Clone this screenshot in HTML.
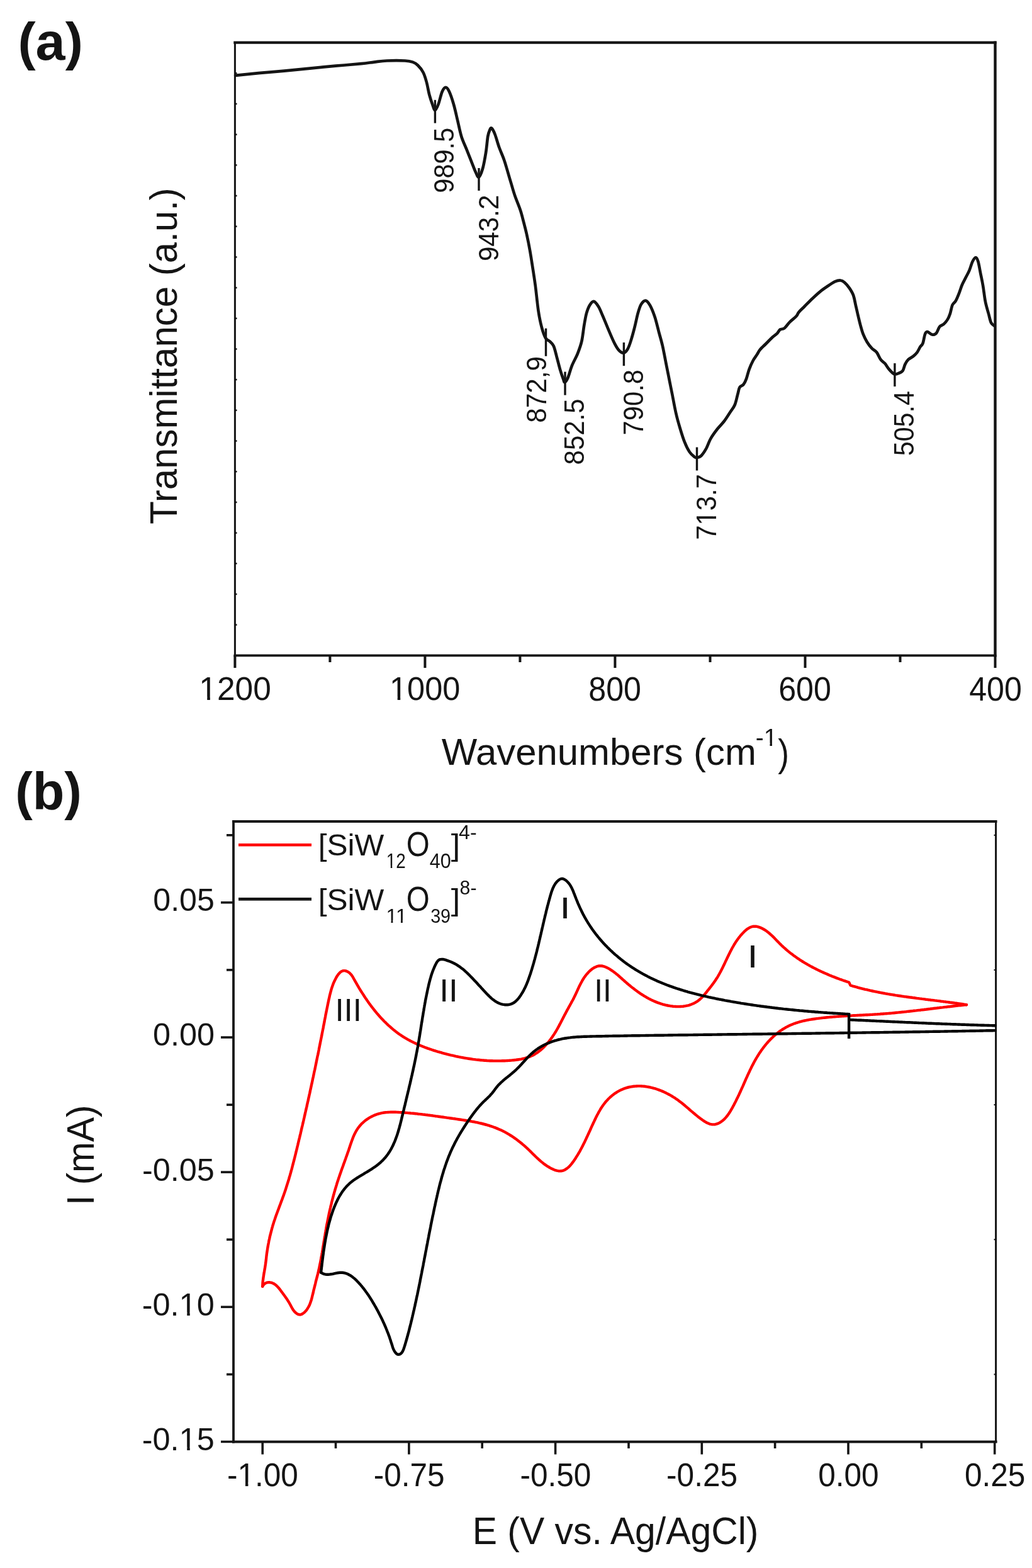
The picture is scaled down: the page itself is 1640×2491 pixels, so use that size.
<!DOCTYPE html><html><head><meta charset="utf-8"><title>Figure</title><style>html,body{margin:0;padding:0;background:#fff}svg{display:block}text{font-family:'Liberation Sans',Arial,sans-serif;fill:#141414}</style></head><body>
<svg xmlns="http://www.w3.org/2000/svg" width="1640" height="2491" viewBox="0 0 1640 2491">
<rect width="1640" height="2491" fill="#fff"/>
<text transform="translate(28.42 94.71) scale(1.0194 0.9936)" font-size="83" font-weight="bold">(a)</text>
<g stroke="#141414" fill="none" stroke-linecap="square">
<line x1="373.4" y1="67.6" x2="1581.5" y2="67.6" stroke-width="4.2"/>
<line x1="373.4" y1="67.6" x2="373.4" y2="1041.3" stroke-width="3"/>
<line x1="1581.5" y1="67.6" x2="1581.5" y2="1041.3" stroke-width="4.4"/>
<line x1="373.4" y1="1041.3" x2="1581.5" y2="1041.3" stroke-width="3.8"/>
</g>
<g stroke="#141414" stroke-width="4"><line x1="373.4" y1="1041" x2="373.4" y2="1061.0"/><line x1="524.4" y1="1041" x2="524.4" y2="1052.0"/><line x1="675.4" y1="1041" x2="675.4" y2="1061.0"/><line x1="826.4" y1="1041" x2="826.4" y2="1052.0"/><line x1="977.4" y1="1041" x2="977.4" y2="1061.0"/><line x1="1128.5" y1="1041" x2="1128.5" y2="1052.0"/><line x1="1279.5" y1="1041" x2="1279.5" y2="1061.0"/><line x1="1430.5" y1="1041" x2="1430.5" y2="1052.0"/><line x1="1581.5" y1="1041" x2="1581.5" y2="1061.0"/><line x1="373" y1="116.3" x2="376.5" y2="116.3" stroke-width="2.5"/><line x1="373" y1="165.0" x2="376.5" y2="165.0" stroke-width="2.5"/><line x1="373" y1="213.7" x2="376.5" y2="213.7" stroke-width="2.5"/><line x1="373" y1="262.3" x2="376.5" y2="262.3" stroke-width="2.5"/><line x1="373" y1="311.0" x2="376.5" y2="311.0" stroke-width="2.5"/><line x1="373" y1="359.7" x2="376.5" y2="359.7" stroke-width="2.5"/><line x1="373" y1="408.4" x2="376.5" y2="408.4" stroke-width="2.5"/><line x1="373" y1="457.1" x2="376.5" y2="457.1" stroke-width="2.5"/><line x1="373" y1="505.8" x2="376.5" y2="505.8" stroke-width="2.5"/><line x1="373" y1="554.5" x2="376.5" y2="554.5" stroke-width="2.5"/><line x1="373" y1="603.1" x2="376.5" y2="603.1" stroke-width="2.5"/><line x1="373" y1="651.8" x2="376.5" y2="651.8" stroke-width="2.5"/><line x1="373" y1="700.5" x2="376.5" y2="700.5" stroke-width="2.5"/><line x1="373" y1="749.2" x2="376.5" y2="749.2" stroke-width="2.5"/><line x1="373" y1="797.9" x2="376.5" y2="797.9" stroke-width="2.5"/><line x1="373" y1="846.6" x2="376.5" y2="846.6" stroke-width="2.5"/><line x1="373" y1="895.2" x2="376.5" y2="895.2" stroke-width="2.5"/><line x1="373" y1="943.9" x2="376.5" y2="943.9" stroke-width="2.5"/><line x1="373" y1="992.6" x2="376.5" y2="992.6" stroke-width="2.5"/></g>
<g transform="translate(316.34 1112.30) scale(1.0087 1.0306)"><text font-size="51">1200</text><g fill="#fff"><rect x="2.58" y="-5.11" width="10.19" height="6.71"/><rect x="17.38" y="-5.11" width="9.79" height="6.71"/></g></g>
<g transform="translate(619.03 1112.30) scale(0.9898 1.0306)"><text font-size="51">1000</text><g fill="#fff"><rect x="2.58" y="-5.11" width="10.19" height="6.71"/><rect x="17.38" y="-5.11" width="9.79" height="6.71"/></g></g>
<text transform="translate(935.33 1112.50) scale(0.9827 1.0361)" font-size="51">800</text>
<text transform="translate(1237.22 1112.50) scale(0.9827 1.0361)" font-size="51">600</text>
<text transform="translate(1540.23 1112.50) scale(0.9827 1.0361)" font-size="51">400</text>
<text transform="translate(281.34 832.73) rotate(-90) scale(1.0344 1.0630)" font-size="58">Transmittance (a.u.)</text>
<text transform="translate(701.70 1215.26) scale(1.0324 1.0204)" font-size="58">Wavenumbers (cm</text>
<g transform="translate(1200.86 1184.50) scale(1.0196 1.0000)"><text font-size="38">-1</text><g fill="#fff"><rect x="14.24" y="-4.14" width="7.92" height="5.74"/><rect x="25.59" y="-4.14" width="7.63" height="5.74"/></g></g>
<text transform="translate(1236.18 1216.66) scale(0.9200 1.0537)" font-size="58">)</text>
<path d="M374.1 119.8C380.2 119.2 397.9 117.4 410.8 116.2C423.7 115.0 438.1 113.9 451.7 112.6C465.3 111.3 478.9 109.9 492.5 108.6C506.1 107.3 519.8 105.9 533.4 104.7C547.0 103.5 564.0 102.2 574.2 101.2C584.4 100.2 587.8 99.4 594.6 98.6C601.4 97.8 606.8 96.8 615.0 96.5C623.2 96.2 636.8 96.2 643.6 96.5C650.4 96.8 652.5 97.4 655.9 98.6C659.3 99.8 661.2 101.0 664.0 103.7C666.8 106.4 670.2 110.5 672.5 115.0C674.8 119.5 676.4 125.1 678.0 131.0C679.6 136.9 680.7 144.7 682.3 150.6C683.9 156.5 685.9 162.4 687.4 166.5C688.9 170.6 689.9 175.2 691.4 175.1C692.9 175.0 694.6 170.9 696.5 166.0C698.4 161.1 700.7 150.0 702.7 145.5C704.7 141.0 706.4 138.9 708.3 138.9C710.2 138.9 711.8 141.0 713.9 145.5C716.0 150.0 718.8 158.3 721.0 166.0C723.2 173.7 725.2 183.0 727.2 191.5C729.2 200.0 730.9 209.3 733.3 217.0C735.7 224.7 738.8 230.6 741.5 237.4C744.2 244.2 747.2 251.8 749.6 257.8C752.0 263.8 753.9 269.3 755.8 273.2C757.7 277.1 759.0 282.2 760.9 281.3C762.8 280.4 765.1 274.5 767.0 268.0C768.9 261.5 770.7 251.0 772.1 242.5C773.5 234.0 774.2 222.9 775.2 217.0C776.2 211.1 777.2 209.0 778.2 206.8C779.2 204.6 779.9 202.6 781.3 203.7C782.7 204.8 784.6 208.4 786.6 213.5C788.6 218.6 790.8 227.4 793.2 234.0C795.6 240.6 798.7 247.2 800.8 253.2C802.9 259.1 804.0 263.3 805.9 269.7C807.8 276.1 810.2 284.5 812.3 291.4C814.4 298.3 815.9 304.0 818.3 311.0C820.7 318.0 824.5 326.7 826.8 333.5C829.1 340.3 830.2 345.4 831.9 351.9C833.6 358.4 835.3 364.6 837.0 372.3C838.7 380.0 840.6 389.3 842.1 397.8C843.6 406.3 844.8 414.0 846.2 423.4C847.7 432.8 849.2 442.3 850.8 454.0C852.3 465.7 853.9 482.8 855.5 493.6C857.1 504.5 858.7 511.9 860.6 519.1C862.5 526.3 864.9 533.2 867.0 537.0C869.1 540.8 871.3 540.0 873.4 542.1C875.5 544.2 877.9 545.5 879.8 549.8C881.7 554.0 883.2 561.4 884.9 567.6C886.6 573.8 888.3 581.0 890.0 586.8C891.7 592.5 893.8 598.7 895.1 602.1C896.4 605.5 896.3 607.6 897.6 607.2C898.9 606.8 900.8 604.0 902.7 599.5C904.6 595.0 906.5 586.8 909.1 580.4C911.7 574.0 915.6 567.7 918.1 561.3C920.6 554.9 922.7 549.5 924.4 542.1C926.1 534.7 927.0 524.1 928.3 516.6C929.6 509.2 930.6 502.7 932.1 497.4C933.6 492.1 935.3 487.8 937.2 484.7C939.1 481.6 941.3 478.5 943.6 478.9C945.9 479.3 948.9 483.5 951.2 487.2C953.5 490.9 955.5 496.4 957.6 501.3C959.7 506.2 961.9 511.5 964.0 516.6C966.1 521.7 968.3 527.0 970.4 531.9C972.5 536.8 974.7 541.9 976.8 545.9C978.9 549.9 980.9 553.6 983.2 556.1C985.5 558.6 988.5 560.8 990.8 560.6C993.1 560.4 995.3 558.0 997.2 554.9C999.1 551.8 1000.4 548.1 1002.3 542.1C1004.2 536.1 1006.8 526.6 1008.7 519.1C1010.6 511.7 1012.1 503.3 1013.8 497.4C1015.5 491.4 1016.9 486.7 1018.9 483.4C1020.9 480.1 1023.7 477.3 1026.1 477.6C1028.4 477.9 1030.6 480.9 1033.0 485.2C1035.4 489.5 1038.3 496.7 1040.6 503.6C1042.9 510.5 1044.8 518.9 1046.8 526.6C1048.8 534.3 1050.9 540.7 1052.9 549.6C1054.9 558.5 1057.2 571.3 1059.0 580.2C1060.8 589.1 1062.1 595.6 1063.6 603.2C1065.1 610.9 1066.4 617.2 1068.2 626.1C1070.0 635.0 1072.2 647.9 1074.3 656.8C1076.3 665.7 1078.2 672.1 1080.5 679.7C1082.8 687.4 1085.5 696.3 1088.1 702.7C1090.6 709.1 1093.2 714.2 1095.8 718.0C1098.3 721.8 1101.5 724.2 1103.4 725.7C1105.3 727.2 1105.5 727.5 1107.3 727.2C1109.1 727.0 1111.7 726.5 1114.1 724.2C1116.5 721.9 1119.2 718.0 1121.8 713.4C1124.4 708.8 1126.4 702.0 1129.5 696.6C1132.6 691.2 1136.6 685.9 1140.2 681.3C1143.8 676.7 1147.6 673.4 1150.9 669.0C1154.2 664.6 1157.3 659.5 1160.1 655.2C1162.9 650.9 1165.8 647.9 1167.8 643.0C1169.8 638.1 1171.1 630.7 1172.4 626.1C1173.7 621.5 1173.9 618.0 1175.4 615.4C1176.9 612.8 1179.7 613.1 1181.5 610.8C1183.3 608.5 1184.6 605.7 1186.1 601.6C1187.6 597.5 1188.9 591.1 1190.7 586.3C1192.5 581.4 1194.9 576.3 1196.9 572.5C1199.0 568.7 1201.2 566.1 1203.0 563.3C1204.8 560.5 1205.3 558.5 1207.6 555.7C1209.9 552.9 1213.5 549.8 1216.8 546.5C1220.1 543.2 1224.5 538.6 1227.5 535.8C1230.5 533.0 1233.1 531.6 1235.1 529.6C1237.1 527.6 1237.8 524.9 1239.7 523.5C1241.6 522.1 1243.8 523.5 1246.4 521.5C1249.0 519.5 1252.1 514.5 1255.3 511.3C1258.5 508.1 1263.2 504.9 1265.5 502.3C1267.8 499.8 1267.3 498.6 1269.4 496.0C1271.5 493.4 1274.7 490.6 1278.3 487.0C1281.9 483.4 1286.8 478.2 1291.1 474.2C1295.3 470.2 1299.5 466.2 1303.8 462.8C1308.0 459.4 1312.8 456.4 1316.6 453.8C1320.4 451.2 1323.6 448.8 1326.8 447.4C1330.0 446.0 1333.2 445.3 1335.7 445.5C1338.2 445.7 1339.8 446.7 1342.1 448.7C1344.4 450.7 1347.5 454.2 1349.8 457.6C1352.1 461.0 1354.4 464.4 1356.1 469.1C1357.8 473.8 1358.7 480.2 1360.0 485.7C1361.3 491.2 1362.5 497.0 1363.8 502.3C1365.1 507.6 1366.3 512.9 1367.6 517.6C1368.9 522.3 1369.8 526.1 1371.5 530.4C1373.2 534.7 1375.5 539.4 1377.8 543.2C1380.1 547.0 1382.9 550.6 1385.5 553.4C1388.1 556.2 1390.9 556.8 1393.2 559.8C1395.5 562.8 1397.3 568.2 1399.5 571.2C1401.7 574.2 1404.2 575.0 1406.4 577.6C1408.6 580.2 1410.3 583.8 1412.8 586.6C1415.2 589.4 1418.5 593.2 1421.1 594.2C1423.6 595.2 1425.9 593.8 1428.1 592.9C1430.3 592.0 1432.8 591.4 1434.5 589.1C1436.2 586.8 1436.8 581.9 1438.3 578.9C1439.8 575.9 1441.3 573.3 1443.4 571.2C1445.5 569.1 1448.8 568.0 1451.1 566.1C1453.4 564.2 1455.5 562.3 1457.4 559.8C1459.3 557.2 1461.0 553.1 1462.5 550.8C1464.0 548.4 1465.1 549.1 1466.4 545.7C1467.7 542.3 1468.9 533.5 1470.2 530.4C1471.5 527.3 1472.1 527.0 1474.0 527.2C1475.9 527.4 1479.4 531.4 1481.7 531.7C1484.0 532.0 1486.2 531.2 1488.1 529.1C1490.0 527.0 1491.3 521.2 1493.2 518.9C1495.1 516.6 1497.5 517.0 1499.6 515.1C1501.7 513.2 1504.2 510.2 1505.9 507.4C1507.6 504.6 1508.5 502.3 1509.8 498.5C1511.1 494.7 1512.1 487.8 1513.6 484.4C1515.1 481.0 1517.0 481.1 1518.7 478.1C1520.4 475.1 1522.1 470.9 1523.8 466.6C1525.5 462.3 1527.0 457.0 1528.9 452.5C1530.8 448.0 1533.4 443.6 1535.3 439.8C1537.2 436.0 1538.7 433.7 1540.4 429.6C1542.1 425.6 1543.8 418.9 1545.5 415.5C1547.2 412.1 1549.1 409.1 1550.6 409.1C1552.1 409.1 1553.1 411.2 1554.4 415.5C1555.7 419.8 1557.0 428.3 1558.3 434.7C1559.6 441.1 1560.8 446.4 1562.1 453.8C1563.4 461.2 1564.4 471.9 1565.9 479.3C1567.4 486.8 1569.5 493.0 1571.0 498.5C1572.5 504.0 1573.4 509.3 1574.9 512.5C1576.4 515.7 1579.2 516.8 1580.0 517.6" fill="none" stroke="#141414" stroke-width="4.7" stroke-linejoin="round" stroke-linecap="round"/>
<g stroke="#141414" stroke-width="3.4"><line x1="691.4" y1="158.8" x2="691.4" y2="195.6"/><line x1="761.0" y1="267.0" x2="761.0" y2="302.9"/><line x1="867.5" y1="521.7" x2="867.5" y2="565.8"/><line x1="898.0" y1="590.6" x2="898.0" y2="627.7"/><line x1="991.4" y1="544.1" x2="991.4" y2="581.2"/><line x1="1107.5" y1="710.5" x2="1107.5" y2="747.5"/><line x1="1421.9" y1="577.1" x2="1421.9" y2="614.0"/></g>
<text transform="translate(721.00 306.69) rotate(-90) scale(0.9443 1.0000)" font-size="44">989.5</text>
<text transform="translate(791.60 415.12) rotate(-90) scale(0.9585 1.0194)" font-size="44">943.2</text>
<text transform="translate(867.63 671.82) rotate(-90) scale(0.9604 0.9944)" font-size="44">872,9</text>
<text transform="translate(928.10 738.41) rotate(-90) scale(0.9528 1.0065)" font-size="44">852.5</text>
<text transform="translate(1021.50 691.39) rotate(-90) scale(0.9472 1.0194)" font-size="44">790.8</text>
<g transform="translate(1138.20 857.70) rotate(-90) scale(0.9491 1.0097)"><text font-size="44">713.7</text><g fill="#fff"><rect x="26.52" y="-4.59" width="8.97" height="6.19"/><rect x="39.46" y="-4.59" width="8.63" height="6.19"/></g></g>
<text transform="translate(1452.00 724.27) rotate(-90) scale(0.9364 1.0226)" font-size="44">505.4</text>
<text transform="translate(24.16 1285.74) scale(0.9859 0.9974)" font-size="84" font-weight="bold">(b)</text>
<g stroke="#141414" fill="none" stroke-linecap="square">
<line x1="371" y1="1305" x2="1582.6" y2="1305" stroke-width="3.8"/>
<line x1="371" y1="1305" x2="371" y2="2290.5" stroke-width="3.8"/>
<line x1="1582.6" y1="1305" x2="1582.6" y2="2290.5" stroke-width="3"/>
<line x1="371" y1="2290.5" x2="1582.6" y2="2290.5" stroke-width="4"/>
</g>
<g stroke="#141414" stroke-width="3.6"><line x1="417.2" y1="2290" x2="417.2" y2="2310.5"/><line x1="533.5" y1="2290" x2="533.5" y2="2301.0"/><line x1="649.9" y1="2290" x2="649.9" y2="2310.5"/><line x1="766.2" y1="2290" x2="766.2" y2="2301.0"/><line x1="882.6" y1="2290" x2="882.6" y2="2310.5"/><line x1="999.0" y1="2290" x2="999.0" y2="2301.0"/><line x1="1115.3" y1="2290" x2="1115.3" y2="2310.5"/><line x1="1231.6" y1="2290" x2="1231.6" y2="2301.0"/><line x1="1348.0" y1="2290" x2="1348.0" y2="2310.5"/><line x1="1464.3" y1="2290" x2="1464.3" y2="2301.0"/><line x1="1580.7" y1="2290" x2="1580.7" y2="2310.5"/><line x1="351.0" y1="2290.4" x2="371" y2="2290.4"/><line x1="360.0" y1="2183.4" x2="371" y2="2183.4"/><line x1="351.0" y1="2076.3" x2="371" y2="2076.3"/><line x1="360.0" y1="1969.2" x2="371" y2="1969.2"/><line x1="351.0" y1="1862.1" x2="371" y2="1862.1"/><line x1="360.0" y1="1755.1" x2="371" y2="1755.1"/><line x1="351.0" y1="1648.0" x2="371" y2="1648.0"/><line x1="360.0" y1="1540.9" x2="371" y2="1540.9"/><line x1="351.0" y1="1433.8" x2="371" y2="1433.8"/><line x1="360.0" y1="1326.8" x2="371" y2="1326.8"/><line x1="1579.5" y1="2183.4" x2="1582" y2="2183.4" stroke-width="2"/><line x1="1579.5" y1="1969.2" x2="1582" y2="1969.2" stroke-width="2"/><line x1="1579.5" y1="1755.1" x2="1582" y2="1755.1" stroke-width="2"/><line x1="1579.5" y1="1540.9" x2="1582" y2="1540.9" stroke-width="2"/><line x1="1579.5" y1="1326.8" x2="1582" y2="1326.8" stroke-width="2"/></g>
<g transform="translate(361.02 2360.50) scale(0.9909 1.0343)"><text font-size="50">-1.00</text><g fill="#fff"><rect x="19.15" y="-5.04" width="10.02" height="6.64"/><rect x="33.68" y="-5.04" width="9.63" height="6.64"/></g></g>
<text transform="translate(593.72 2360.50) scale(0.9909 1.0343)" font-size="50">-0.75</text>
<text transform="translate(826.42 2360.50) scale(0.9909 1.0343)" font-size="50">-0.50</text>
<text transform="translate(1059.12 2360.50) scale(0.9909 1.0343)" font-size="50">-0.25</text>
<text transform="translate(1300.24 2360.50) scale(0.9909 1.0343)" font-size="50">0.00</text>
<text transform="translate(1532.94 2360.50) scale(0.9909 1.0343)" font-size="50">0.25</text>
<text transform="translate(225.88 1875.60) scale(1.0082 1.0171)" font-size="50">-0.05</text>
<text transform="translate(243.30 1446.60) scale(1.0022 1.0029)" font-size="50">0.05</text>
<text transform="translate(242.92 1661.45) scale(1.0082 1.0171)" font-size="50">0.00</text>
<g transform="translate(225.78 2089.75) scale(1.0082 1.0171)"><text font-size="50">-0.10</text><g fill="#fff"><rect x="60.85" y="-5.04" width="10.02" height="6.64"/><rect x="75.38" y="-5.04" width="9.63" height="6.64"/></g></g>
<g transform="translate(225.78 2303.90) scale(1.0082 1.0171)"><text font-size="50">-0.15</text><g fill="#fff"><rect x="60.85" y="-5.04" width="10.02" height="6.64"/><rect x="75.38" y="-5.04" width="9.63" height="6.64"/></g></g>
<text transform="translate(149.38 1915.06) rotate(-90) scale(1.0114 1.0519)" font-size="58">I (mA)</text>
<text transform="translate(750.72 2452.79) scale(1.0150 1.0593)" font-size="58">E (V vs. Ag/AgCl)</text>
<line x1="379" y1="1342.3" x2="495" y2="1342.3" stroke="#ff0000" stroke-width="4.6"/>
<line x1="379" y1="1428.4" x2="495" y2="1428.4" stroke="#141414" stroke-width="4.6"/>
<text transform="translate(505.76 1358.90) scale(1.0111 1.0000)" font-size="49">[SiW</text>
<g transform="translate(613.79 1379.20) scale(0.9286 1.1000)"><text font-size="30">12</text><g fill="#fff"><rect x="0.99" y="-3.54" width="6.53" height="5.14"/><rect x="10.22" y="-3.54" width="6.30" height="5.14"/></g></g>
<text transform="translate(645.86 1359.80) scale(0.9706 1.1242)" font-size="49">O</text>
<text transform="translate(682.68 1379.20) scale(1.0194 1.1000)" font-size="30">40</text>
<text transform="translate(716.70 1358.79) scale(1.0600 0.9911)" font-size="49">]</text>
<text transform="translate(729.06 1332.80) scale(1.0360 1.0227)" font-size="31">4-</text>
<text transform="translate(505.76 1445.90) scale(1.0111 1.0000)" font-size="49">[SiW</text>
<g transform="translate(613.41 1465.70) scale(1.0726 1.0750)"><text font-size="30">11</text><g fill="#fff"><rect x="0.99" y="-3.54" width="6.53" height="5.14"/><rect x="10.22" y="-3.54" width="6.30" height="5.14"/><rect x="15.44" y="-3.54" width="6.53" height="5.14"/><rect x="24.68" y="-3.54" width="6.30" height="5.14"/></g></g>
<text transform="translate(645.86 1446.80) scale(0.9706 1.1242)" font-size="49">O</text>
<text transform="translate(684.14 1465.70) scale(0.9581 1.0750)" font-size="30">39</text>
<text transform="translate(716.70 1445.79) scale(1.0600 0.9911)" font-size="49">]</text>
<text transform="translate(730.62 1420.50) scale(0.9760 0.9864)" font-size="31">8-</text>
<g fill="none" stroke-width="4.4" stroke-linejoin="round" stroke-linecap="round">
<path d="M1535.9 1596.2L1533.9 1595.9L1531.9 1595.6L1529.9 1595.3L1527.9 1595.0L1525.8 1594.7L1523.8 1594.4L1521.8 1594.1L1519.8 1593.8L1517.8 1593.6L1515.8 1593.3L1513.8 1593.0L1511.8 1592.7L1509.7 1592.5L1507.7 1592.2L1505.7 1591.9L1503.7 1591.7L1501.7 1591.4L1499.6 1591.2L1497.6 1590.9L1495.6 1590.7L1493.6 1590.4L1491.6 1590.1L1489.6 1589.9L1487.5 1589.6L1485.5 1589.4L1483.5 1589.1L1481.5 1588.9L1479.4 1588.7L1477.4 1588.4L1475.4 1588.2L1473.4 1587.9L1471.4 1587.7L1469.3 1587.4L1467.3 1587.1L1465.3 1586.9L1463.3 1586.6L1461.3 1586.4L1459.2 1586.1L1457.2 1585.9L1455.2 1585.6L1453.2 1585.3L1451.2 1585.1L1449.2 1584.8L1447.1 1584.5L1445.1 1584.3L1443.1 1584.0L1441.1 1583.7L1439.1 1583.4L1437.1 1583.2L1435.0 1582.9L1433.0 1582.6L1431.0 1582.3L1429.0 1582.0L1427.0 1581.7L1425.0 1581.4L1423.0 1581.1L1421.0 1580.7L1419.0 1580.4L1417.0 1580.1L1414.9 1579.8L1412.9 1579.4L1410.9 1579.1L1408.9 1578.7L1406.9 1578.4L1404.9 1578.0L1402.9 1577.6L1400.9 1577.3L1398.9 1576.9L1396.9 1576.5L1395.0 1576.1L1393.0 1575.7L1391.0 1575.3L1389.0 1574.9L1387.0 1574.5L1385.0 1574.0L1383.0 1573.6L1381.0 1573.1L1379.1 1572.7L1377.1 1572.2L1375.1 1571.8L1373.1 1571.3L1371.1 1570.8L1369.2 1570.3L1367.2 1569.8L1365.2 1569.3L1363.3 1568.8L1361.3 1568.2L1359.3 1567.7L1357.4 1567.1L1355.4 1566.6L1353.4 1566.0L1351.5 1565.4L1349.2 1560.6L1347.4 1560.0L1345.5 1559.4L1343.6 1558.7L1341.7 1558.1L1339.9 1557.5L1338.0 1556.8L1336.1 1556.1L1334.2 1555.5L1332.4 1554.8L1330.5 1554.1L1328.6 1553.4L1326.8 1552.6L1324.9 1551.9L1323.0 1551.2L1321.2 1550.4L1319.3 1549.7L1317.5 1548.9L1315.6 1548.1L1313.8 1547.3L1311.9 1546.5L1310.1 1545.7L1308.2 1544.9L1306.4 1544.1L1304.6 1543.2L1302.7 1542.4L1300.9 1541.5L1299.1 1540.6L1297.3 1539.7L1295.5 1538.8L1293.7 1537.9L1291.9 1537.0L1290.2 1536.0L1288.4 1535.1L1286.6 1534.1L1284.9 1533.1L1283.1 1532.1L1281.4 1531.1L1279.7 1530.1L1277.9 1529.1L1276.2 1528.0L1274.5 1527.0L1272.8 1525.9L1271.1 1524.8L1269.5 1523.7L1267.8 1522.6L1266.2 1521.5L1264.5 1520.3L1262.9 1519.1L1261.3 1518.0L1259.7 1516.8L1258.1 1515.6L1256.5 1514.4L1254.9 1513.1L1253.4 1511.9L1251.8 1510.6L1250.3 1509.3L1248.8 1508.0L1247.3 1506.7L1245.8 1505.4L1244.3 1504.0L1242.8 1502.7L1241.4 1501.3L1240.0 1499.9L1238.6 1498.5L1237.2 1497.0L1235.8 1495.6L1234.4 1494.2L1233.0 1492.7L1231.6 1491.3L1230.2 1489.8L1228.8 1488.4L1227.4 1487.0L1225.9 1485.7L1224.4 1484.3L1222.9 1483.0L1221.4 1481.7L1219.8 1480.5L1218.2 1479.3L1216.6 1478.1L1214.8 1477.0L1213.1 1476.0L1211.2 1475.0L1209.3 1474.1L1207.4 1473.3L1205.4 1472.6L1203.4 1472.1L1201.4 1471.7L1199.5 1471.6L1197.6 1471.7L1195.7 1472.0L1193.9 1472.5L1192.1 1473.2L1190.4 1474.1L1188.8 1475.1L1187.1 1476.2L1185.5 1477.5L1184.0 1478.8L1182.5 1480.2L1181.1 1481.7L1179.6 1483.2L1178.3 1484.7L1176.9 1486.2L1175.7 1487.8L1174.4 1489.4L1173.2 1491.0L1172.0 1492.6L1170.9 1494.3L1169.7 1495.9L1168.6 1497.6L1167.6 1499.3L1166.5 1501.0L1165.5 1502.8L1164.5 1504.5L1163.5 1506.3L1162.6 1508.0L1161.7 1509.8L1160.7 1511.6L1159.8 1513.4L1158.9 1515.2L1158.0 1517.0L1157.2 1518.8L1156.3 1520.6L1155.4 1522.4L1154.6 1524.2L1153.7 1526.0L1152.8 1527.9L1152.0 1529.7L1151.1 1531.5L1150.3 1533.3L1149.4 1535.1L1148.5 1536.9L1147.6 1538.7L1146.7 1540.5L1145.8 1542.2L1144.9 1544.0L1143.9 1545.8L1143.0 1547.5L1142.0 1549.2L1141.0 1551.0L1140.0 1552.7L1138.9 1554.3L1137.8 1556.0L1136.7 1557.7L1135.6 1559.3L1134.5 1560.9L1133.3 1562.5L1132.1 1564.1L1130.9 1565.7L1129.7 1567.3L1128.4 1568.9L1127.2 1570.5L1125.9 1572.1L1124.6 1573.7L1123.3 1575.4L1122.0 1577.0L1120.7 1578.6L1119.4 1580.2L1118.0 1581.7L1116.6 1583.2L1115.2 1584.7L1113.8 1586.1L1112.3 1587.5L1110.8 1588.8L1109.2 1590.0L1107.6 1591.1L1105.9 1592.1L1104.2 1593.1L1102.5 1594.0L1100.7 1594.8L1098.9 1595.5L1097.1 1596.2L1095.3 1596.8L1093.4 1597.3L1091.5 1597.7L1089.5 1598.1L1087.6 1598.4L1085.6 1598.7L1083.6 1598.9L1081.6 1599.0L1079.6 1599.1L1077.6 1599.1L1075.6 1599.1L1073.6 1599.0L1071.5 1598.9L1069.5 1598.7L1067.5 1598.4L1065.5 1598.2L1063.4 1597.8L1061.4 1597.5L1059.4 1597.0L1057.5 1596.6L1055.5 1596.1L1053.5 1595.6L1051.6 1595.0L1049.7 1594.4L1047.8 1593.7L1045.9 1593.1L1044.0 1592.4L1042.1 1591.6L1040.3 1590.9L1038.5 1590.1L1036.7 1589.2L1034.9 1588.4L1033.1 1587.5L1031.3 1586.6L1029.5 1585.6L1027.8 1584.7L1026.1 1583.7L1024.4 1582.7L1022.7 1581.6L1021.0 1580.5L1019.3 1579.5L1017.6 1578.4L1016.0 1577.2L1014.3 1576.1L1012.7 1574.9L1011.1 1573.8L1009.5 1572.6L1007.9 1571.3L1006.3 1570.1L1004.7 1568.9L1003.1 1567.6L1001.6 1566.3L1000.0 1565.1L998.5 1563.8L996.9 1562.5L995.4 1561.2L993.9 1559.8L992.4 1558.5L990.9 1557.2L989.4 1555.8L987.9 1554.5L986.4 1553.2L984.9 1551.8L983.4 1550.5L981.9 1549.2L980.4 1547.9L978.8 1546.7L977.3 1545.4L975.7 1544.2L974.0 1543.0L972.4 1541.9L970.7 1540.8L969.0 1539.7L967.2 1538.7L965.4 1537.7L963.5 1536.8L961.6 1536.0L959.7 1535.3L957.8 1534.8L955.8 1534.5L953.9 1534.4L952.0 1534.5L950.1 1534.9L948.3 1535.4L946.5 1536.2L944.7 1537.0L942.9 1538.1L941.2 1539.2L939.6 1540.5L938.0 1541.8L936.5 1543.2L935.0 1544.7L933.7 1546.2L932.3 1547.7L931.1 1549.3L929.9 1550.9L928.7 1552.5L927.6 1554.1L926.6 1555.8L925.5 1557.5L924.6 1559.3L923.6 1561.0L922.7 1562.8L921.8 1564.5L920.9 1566.3L920.0 1568.1L919.2 1570.0L918.3 1571.8L917.5 1573.6L916.7 1575.4L915.8 1577.3L915.0 1579.1L914.1 1580.9L913.2 1582.7L912.3 1584.6L911.4 1586.4L910.5 1588.2L909.5 1590.0L908.5 1591.7L907.6 1593.5L906.6 1595.3L905.6 1597.1L904.6 1598.8L903.7 1600.6L902.7 1602.4L901.7 1604.1L900.8 1605.9L899.8 1607.7L898.9 1609.4L898.0 1611.2L897.0 1612.9L896.1 1614.7L895.2 1616.4L894.3 1618.2L893.4 1619.9L892.5 1621.7L891.6 1623.4L890.7 1625.2L889.8 1626.9L888.9 1628.6L888.0 1630.4L887.0 1632.1L886.1 1633.8L885.1 1635.5L884.1 1637.3L883.1 1639.0L882.0 1640.7L881.0 1642.4L879.9 1644.1L878.7 1645.8L877.6 1647.5L876.4 1649.1L875.2 1650.8L873.9 1652.4L872.7 1654.1L871.4 1655.7L870.0 1657.3L868.7 1658.8L867.3 1660.3L865.9 1661.8L864.5 1663.3L863.0 1664.7L861.5 1666.1L860.0 1667.5L858.4 1668.8L856.8 1670.0L855.2 1671.2L853.6 1672.4L851.9 1673.5L850.3 1674.5L848.5 1675.5L846.8 1676.5L845.0 1677.3L843.2 1678.1L841.4 1678.9L839.5 1679.5L837.7 1680.2L835.8 1680.7L833.9 1681.3L831.9 1681.7L830.0 1682.2L828.1 1682.6L826.1 1682.9L824.1 1683.2L822.1 1683.5L820.1 1683.8L818.1 1684.0L816.1 1684.2L814.1 1684.4L812.1 1684.6L810.1 1684.7L808.1 1684.9L806.1 1685.0L804.1 1685.1L802.1 1685.2L800.1 1685.3L798.1 1685.3L796.1 1685.4L794.1 1685.4L792.1 1685.4L790.1 1685.4L788.1 1685.4L786.1 1685.4L784.1 1685.4L782.1 1685.3L780.1 1685.2L778.1 1685.2L776.1 1685.1L774.1 1685.0L772.1 1684.8L770.1 1684.7L768.1 1684.5L766.1 1684.4L764.2 1684.2L762.2 1684.0L760.2 1683.8L758.2 1683.6L756.2 1683.4L754.2 1683.1L752.2 1682.9L750.3 1682.6L748.3 1682.3L746.3 1682.0L744.3 1681.7L742.3 1681.4L740.4 1681.1L738.4 1680.8L736.4 1680.4L734.4 1680.0L732.5 1679.7L730.5 1679.3L728.5 1678.9L726.6 1678.5L724.6 1678.1L722.6 1677.6L720.7 1677.2L718.7 1676.7L716.8 1676.3L714.8 1675.8L712.8 1675.3L710.9 1674.8L708.9 1674.3L707.0 1673.8L705.0 1673.3L703.1 1672.8L701.2 1672.2L699.2 1671.7L697.3 1671.1L695.3 1670.6L693.4 1670.0L691.5 1669.4L689.5 1668.8L687.6 1668.2L685.7 1667.5L683.8 1666.9L681.9 1666.2L680.0 1665.6L678.1 1664.9L676.2 1664.2L674.3 1663.5L672.5 1662.8L670.6 1662.0L668.7 1661.3L666.9 1660.5L665.0 1659.7L663.2 1658.9L661.4 1658.1L659.6 1657.3L657.8 1656.4L656.0 1655.5L654.2 1654.6L652.4 1653.7L650.7 1652.8L648.9 1651.9L647.2 1650.9L645.5 1649.9L643.8 1648.9L642.1 1647.9L640.4 1646.8L638.7 1645.7L637.1 1644.6L635.4 1643.5L633.8 1642.4L632.2 1641.2L630.6 1640.0L629.0 1638.8L627.5 1637.6L625.9 1636.4L624.4 1635.1L622.9 1633.8L621.4 1632.5L619.9 1631.2L618.4 1629.9L616.9 1628.6L615.4 1627.2L614.0 1625.8L612.6 1624.4L611.1 1623.0L609.7 1621.6L608.3 1620.1L607.0 1618.7L605.6 1617.2L604.2 1615.7L602.9 1614.2L601.6 1612.7L600.3 1611.2L598.9 1609.7L597.6 1608.1L596.4 1606.6L595.1 1605.0L593.8 1603.4L592.6 1601.8L591.3 1600.2L590.1 1598.6L588.9 1597.0L587.7 1595.4L586.5 1593.7L585.3 1592.1L584.2 1590.4L583.0 1588.7L581.9 1587.1L580.7 1585.4L579.6 1583.7L578.5 1582.0L577.4 1580.3L576.3 1578.6L575.2 1576.9L574.1 1575.2L573.0 1573.5L572.0 1571.8L570.9 1570.1L569.9 1568.3L568.9 1566.6L567.9 1564.9L566.9 1563.1L565.9 1561.4L564.9 1559.7L563.9 1557.9L562.9 1556.2L562.0 1554.5L561.0 1552.7L560.0 1551.0L558.9 1549.4L557.7 1547.9L556.3 1546.4L554.8 1545.1L553.1 1544.0L551.3 1543.1L549.4 1542.4L547.6 1542.1L545.7 1542.1L544.0 1542.6L542.4 1543.4L540.8 1544.5L539.4 1545.9L538.0 1547.4L536.7 1549.2L535.5 1551.0L534.3 1553.0L533.3 1554.9L532.3 1556.9L531.4 1558.8L530.5 1560.7L529.7 1562.6L529.0 1564.6L528.3 1566.5L527.6 1568.4L527.0 1570.3L526.4 1572.2L525.9 1574.1L525.4 1576.0L524.9 1577.9L524.4 1579.8L523.9 1581.7L523.5 1583.7L523.1 1585.6L522.6 1587.5L522.2 1589.5L521.8 1591.4L521.4 1593.3L521.0 1595.3L520.6 1597.2L520.2 1599.2L519.8 1601.1L519.4 1603.1L519.0 1605.1L518.6 1607.0L518.2 1609.0L517.8 1611.0L517.4 1612.9L517.1 1614.9L516.7 1616.9L516.3 1618.9L515.9 1620.8L515.6 1622.8L515.2 1624.8L514.8 1626.7L514.4 1628.7L514.0 1630.7L513.7 1632.7L513.3 1634.6L512.9 1636.6L512.5 1638.6L512.1 1640.6L511.7 1642.5L511.4 1644.5L511.0 1646.5L510.6 1648.4L510.2 1650.4L509.8 1652.4L509.4 1654.3L509.0 1656.3L508.6 1658.3L508.2 1660.2L507.8 1662.2L507.4 1664.2L507.0 1666.1L506.7 1668.1L506.3 1670.1L505.9 1672.0L505.5 1674.0L505.1 1676.0L504.6 1677.9L504.2 1679.9L503.8 1681.9L503.4 1683.8L503.0 1685.8L502.6 1687.7L502.2 1689.7L501.8 1691.7L501.4 1693.6L501.0 1695.6L500.6 1697.6L500.2 1699.5L499.7 1701.5L499.3 1703.4L498.9 1705.4L498.5 1707.4L498.1 1709.3L497.7 1711.3L497.2 1713.2L496.8 1715.2L496.4 1717.2L496.0 1719.1L495.6 1721.1L495.1 1723.0L494.7 1725.0L494.3 1726.9L493.9 1728.9L493.4 1730.9L493.0 1732.8L492.6 1734.8L492.2 1736.7L491.7 1738.7L491.3 1740.6L490.9 1742.6L490.4 1744.5L490.0 1746.5L489.6 1748.5L489.1 1750.4L488.7 1752.4L488.2 1754.3L487.8 1756.3L487.4 1758.2L486.9 1760.2L486.5 1762.1L486.0 1764.1L485.6 1766.0L485.1 1768.0L484.7 1770.0L484.3 1771.9L483.8 1773.9L483.4 1775.8L482.9 1777.8L482.5 1779.7L482.0 1781.7L481.6 1783.6L481.1 1785.6L480.7 1787.5L480.2 1789.5L479.7 1791.4L479.3 1793.4L478.8 1795.3L478.4 1797.3L477.9 1799.2L477.5 1801.2L477.0 1803.1L476.5 1805.1L476.1 1807.0L475.6 1809.0L475.1 1810.9L474.7 1812.9L474.2 1814.8L473.7 1816.8L473.3 1818.7L472.8 1820.7L472.3 1822.6L471.9 1824.6L471.4 1826.5L470.9 1828.5L470.4 1830.4L470.0 1832.4L469.5 1834.3L469.0 1836.3L468.5 1838.2L468.0 1840.2L467.5 1842.1L467.0 1844.1L466.5 1846.0L466.0 1847.9L465.5 1849.9L465.0 1851.8L464.5 1853.8L464.0 1855.7L463.5 1857.6L462.9 1859.6L462.4 1861.5L461.9 1863.4L461.3 1865.4L460.8 1867.3L460.2 1869.2L459.6 1871.1L459.1 1873.1L458.5 1875.0L457.9 1876.9L457.3 1878.8L456.7 1880.7L456.1 1882.6L455.5 1884.5L454.9 1886.4L454.3 1888.3L453.7 1890.3L453.0 1892.2L452.4 1894.0L451.7 1895.9L451.1 1897.8L450.4 1899.7L449.7 1901.6L449.0 1903.5L448.3 1905.4L447.6 1907.3L446.9 1909.1L446.2 1911.0L445.5 1912.9L444.8 1914.8L444.1 1916.6L443.4 1918.5L442.7 1920.4L442.0 1922.3L441.3 1924.2L440.6 1926.0L439.9 1927.9L439.2 1929.8L438.5 1931.7L437.9 1933.6L437.2 1935.5L436.6 1937.4L435.9 1939.3L435.3 1941.2L434.7 1943.1L434.1 1945.0L433.5 1946.9L433.0 1948.8L432.4 1950.7L431.9 1952.7L431.4 1954.6L430.9 1956.5L430.4 1958.5L429.9 1960.4L429.4 1962.4L428.9 1964.3L428.5 1966.3L428.1 1968.2L427.6 1970.2L427.2 1972.1L426.9 1974.1L426.5 1976.1L426.1 1978.0L425.8 1980.0L425.4 1982.0L425.1 1984.0L424.8 1986.0L424.5 1987.9L424.2 1989.9L423.9 1991.9L423.7 1993.9L423.4 1995.9L423.2 1997.9L423.0 1999.9L422.8 2001.9L422.5 2003.9L422.3 2005.9L422.0 2007.9L421.7 2009.9L421.4 2011.8L421.1 2013.8L420.8 2015.8L420.4 2017.8L420.1 2019.7L419.7 2021.7L419.4 2023.7L419.1 2025.7L418.8 2027.6L418.5 2029.6L418.2 2031.6L418.0 2033.6L417.7 2035.6L417.5 2037.6L417.4 2039.6L417.3 2041.6L417.2 2043.6" stroke="#ff0000"/>
<path d="M417.2 2043.7L418.4 2041.6L419.9 2040.0L421.5 2038.8L423.2 2037.9L425.1 2037.4L427.0 2037.2L428.9 2037.3L430.8 2037.6L432.7 2038.2L434.5 2039.0L436.3 2040.0L437.9 2041.2L439.4 2042.5L440.9 2043.9L442.3 2045.4L443.6 2047.0L444.9 2048.6L446.1 2050.2L447.3 2051.9L448.5 2053.5L449.7 2055.1L450.9 2056.7L452.0 2058.3L453.2 2059.9L454.3 2061.5L455.4 2063.1L456.5 2064.7L457.5 2066.3L458.6 2068.0L459.6 2069.7L460.6 2071.5L461.6 2073.3L462.6 2075.2L463.6 2077.1L464.7 2079.0L465.8 2080.8L467.1 2082.5L468.4 2084.1L470.0 2085.6L471.6 2086.8L473.4 2087.8L475.2 2088.4L476.9 2088.5L478.7 2088.1L480.4 2087.4L482.0 2086.3L483.5 2085.1L484.9 2083.7L486.2 2082.3L487.4 2080.8L488.5 2079.2L489.5 2077.5L490.5 2075.8L491.4 2074.1L492.2 2072.3L492.9 2070.4L493.6 2068.5L494.3 2066.6L494.9 2064.6L495.4 2062.7L495.9 2060.7L496.4 2058.6L496.9 2056.6L497.4 2054.6L497.9 2052.6L498.3 2050.6L498.8 2048.5L499.3 2046.6L499.8 2044.6L500.3 2042.6L500.8 2040.7L501.3 2038.7L501.7 2036.8L502.2 2034.8L502.7 2032.9L503.2 2031.0L503.7 2029.1L504.2 2027.1L504.7 2025.2L505.2 2023.3L505.6 2021.4L506.1 2019.5L506.5 2017.5L507.0 2015.6L507.4 2013.7L507.8 2011.7L508.2 2009.8L508.6 2007.8L509.0 2005.9L509.4 2003.9L509.8 2002.0L510.1 2000.0L510.5 1998.0L510.8 1996.1L511.2 1994.1L511.5 1992.1L511.9 1990.1L512.2 1988.2L512.6 1986.2L512.9 1984.2L513.2 1982.2L513.5 1980.2L513.9 1978.3L514.2 1976.3L514.5 1974.3L514.8 1972.3L515.2 1970.3L515.5 1968.3L515.8 1966.3L516.1 1964.4L516.5 1962.4L516.8 1960.4L517.1 1958.4L517.5 1956.4L517.8 1954.4L518.2 1952.4L518.5 1950.5L518.9 1948.5L519.2 1946.5L519.6 1944.5L520.0 1942.6L520.4 1940.6L520.8 1938.6L521.2 1936.6L521.6 1934.7L522.0 1932.7L522.4 1930.8L522.8 1928.8L523.2 1926.8L523.6 1924.9L524.1 1922.9L524.5 1921.0L525.0 1919.0L525.4 1917.1L525.9 1915.1L526.4 1913.2L526.8 1911.2L527.3 1909.3L527.8 1907.3L528.3 1905.4L528.8 1903.5L529.3 1901.5L529.8 1899.6L530.4 1897.7L530.9 1895.7L531.4 1893.8L532.0 1891.9L532.5 1890.0L533.1 1888.1L533.7 1886.2L534.3 1884.2L534.9 1882.3L535.4 1880.4L536.0 1878.5L536.7 1876.6L537.3 1874.7L537.9 1872.8L538.5 1870.9L539.2 1869.0L539.8 1867.1L540.5 1865.3L541.1 1863.4L541.8 1861.5L542.5 1859.6L543.1 1857.7L543.8 1855.8L544.5 1853.9L545.2 1852.0L545.8 1850.2L546.5 1848.3L547.2 1846.4L547.9 1844.5L548.6 1842.6L549.3 1840.7L549.9 1838.8L550.6 1836.9L551.3 1835.0L552.0 1833.1L552.6 1831.2L553.3 1829.3L554.0 1827.4L554.6 1825.5L555.3 1823.6L555.9 1821.6L556.5 1819.7L557.2 1817.8L557.8 1815.9L558.5 1814.0L559.2 1812.1L559.9 1810.2L560.6 1808.3L561.3 1806.4L562.1 1804.6L562.9 1802.8L563.8 1801.0L564.7 1799.2L565.6 1797.5L566.6 1795.8L567.7 1794.1L568.8 1792.4L570.0 1790.8L571.2 1789.3L572.5 1787.8L573.8 1786.3L575.2 1784.8L576.7 1783.5L578.2 1782.1L579.7 1780.8L581.3 1779.6L583.0 1778.4L584.6 1777.3L586.3 1776.2L588.1 1775.2L589.9 1774.2L591.7 1773.3L593.5 1772.4L595.3 1771.6L597.2 1770.9L599.1 1770.2L601.0 1769.6L602.9 1769.1L604.9 1768.6L606.8 1768.2L608.8 1767.8L610.8 1767.5L612.7 1767.3L614.7 1767.1L616.7 1767.0L618.7 1766.9L620.7 1766.8L622.7 1766.8L624.7 1766.8L626.7 1766.8L628.7 1766.8L630.8 1766.9L632.8 1767.0L634.8 1767.1L636.8 1767.2L638.8 1767.3L640.8 1767.5L642.8 1767.6L644.8 1767.8L646.8 1767.9L648.8 1768.1L650.8 1768.3L652.8 1768.5L654.8 1768.6L656.8 1768.8L658.8 1769.0L660.8 1769.2L662.8 1769.4L664.8 1769.7L666.8 1769.9L668.8 1770.1L670.8 1770.3L672.7 1770.6L674.7 1770.8L676.7 1771.1L678.7 1771.3L680.7 1771.6L682.7 1771.8L684.7 1772.1L686.6 1772.3L688.6 1772.6L690.6 1772.9L692.6 1773.2L694.6 1773.4L696.6 1773.7L698.5 1774.0L700.5 1774.3L702.5 1774.5L704.5 1774.8L706.5 1775.1L708.5 1775.4L710.4 1775.7L712.4 1775.9L714.4 1776.2L716.4 1776.5L718.4 1776.8L720.4 1777.1L722.4 1777.3L724.4 1777.6L726.3 1777.9L728.3 1778.2L730.3 1778.5L732.3 1778.8L734.3 1779.1L736.3 1779.4L738.3 1779.7L740.3 1780.0L742.2 1780.3L744.2 1780.6L746.2 1781.0L748.2 1781.3L750.1 1781.7L752.1 1782.0L754.1 1782.4L756.0 1782.8L758.0 1783.2L759.9 1783.6L761.9 1784.1L763.8 1784.5L765.8 1785.0L767.7 1785.5L769.6 1786.0L771.5 1786.5L773.5 1787.0L775.4 1787.6L777.3 1788.2L779.2 1788.8L781.1 1789.4L782.9 1790.0L784.8 1790.7L786.7 1791.4L788.5 1792.1L790.4 1792.9L792.2 1793.7L794.1 1794.5L795.9 1795.3L797.7 1796.1L799.5 1797.0L801.3 1797.9L803.1 1798.9L804.9 1799.9L806.6 1800.9L808.4 1801.9L810.1 1803.0L811.8 1804.0L813.6 1805.1L815.3 1806.3L816.9 1807.4L818.6 1808.6L820.3 1809.8L821.9 1811.0L823.5 1812.2L825.1 1813.5L826.7 1814.7L828.3 1816.0L829.9 1817.3L831.4 1818.6L832.9 1819.9L834.5 1821.2L835.9 1822.6L837.4 1823.9L838.9 1825.3L840.3 1826.7L841.7 1828.0L843.1 1829.4L844.5 1830.8L845.9 1832.2L847.3 1833.6L848.7 1834.9L850.1 1836.3L851.5 1837.7L852.9 1839.0L854.4 1840.4L855.8 1841.7L857.3 1843.0L858.8 1844.3L860.3 1845.6L861.9 1846.9L863.5 1848.2L865.1 1849.4L866.8 1850.6L868.5 1851.8L870.2 1852.9L872.1 1854.0L873.9 1855.1L875.8 1856.2L877.8 1857.1L879.7 1858.0L881.7 1858.8L883.7 1859.4L885.6 1859.9L887.5 1860.2L889.4 1860.4L891.3 1860.3L893.0 1860.0L894.8 1859.6L896.4 1859.0L898.1 1858.2L899.6 1857.2L901.2 1856.1L902.7 1854.9L904.1 1853.6L905.5 1852.2L906.9 1850.6L908.2 1849.1L909.5 1847.4L910.8 1845.7L912.0 1844.0L913.2 1842.2L914.4 1840.5L915.5 1838.7L916.6 1836.9L917.7 1835.2L918.8 1833.4L919.8 1831.6L920.9 1829.8L921.9 1828.1L922.8 1826.3L923.8 1824.5L924.7 1822.7L925.7 1820.9L926.6 1819.1L927.5 1817.3L928.4 1815.5L929.3 1813.7L930.1 1811.9L931.0 1810.1L931.8 1808.3L932.6 1806.5L933.5 1804.7L934.3 1802.9L935.1 1801.2L935.9 1799.4L936.8 1797.6L937.6 1795.8L938.4 1794.0L939.2 1792.2L940.0 1790.4L940.8 1788.6L941.7 1786.8L942.5 1785.0L943.3 1783.2L944.2 1781.4L945.0 1779.6L945.9 1777.9L946.7 1776.1L947.6 1774.3L948.5 1772.5L949.4 1770.8L950.4 1769.0L951.3 1767.2L952.3 1765.5L953.3 1763.8L954.3 1762.0L955.4 1760.3L956.5 1758.6L957.6 1757.0L958.8 1755.3L960.0 1753.7L961.2 1752.1L962.5 1750.5L963.9 1748.9L965.3 1747.4L966.7 1745.9L968.2 1744.5L969.7 1743.0L971.3 1741.7L972.9 1740.3L974.6 1739.0L976.2 1737.8L977.9 1736.6L979.7 1735.5L981.4 1734.4L983.2 1733.4L985.0 1732.4L986.8 1731.5L988.7 1730.7L990.5 1729.9L992.4 1729.2L994.2 1728.6L996.1 1728.0L998.0 1727.5L999.9 1727.0L1001.9 1726.6L1003.8 1726.3L1005.7 1726.0L1007.7 1725.8L1009.6 1725.6L1011.6 1725.5L1013.5 1725.4L1015.5 1725.4L1017.5 1725.4L1019.5 1725.5L1021.4 1725.6L1023.4 1725.8L1025.4 1726.0L1027.3 1726.3L1029.3 1726.6L1031.3 1727.0L1033.3 1727.4L1035.2 1727.9L1037.2 1728.3L1039.1 1728.9L1041.1 1729.4L1043.0 1730.0L1044.9 1730.7L1046.8 1731.4L1048.7 1732.1L1050.6 1732.8L1052.5 1733.6L1054.4 1734.4L1056.2 1735.3L1058.1 1736.1L1059.9 1737.1L1061.7 1738.0L1063.5 1739.0L1065.3 1739.9L1067.0 1741.0L1068.8 1742.0L1070.5 1743.1L1072.2 1744.1L1073.8 1745.3L1075.5 1746.4L1077.1 1747.5L1078.7 1748.7L1080.3 1749.9L1081.9 1751.1L1083.4 1752.3L1084.9 1753.5L1086.5 1754.8L1088.0 1756.0L1089.5 1757.3L1091.0 1758.6L1092.5 1759.9L1094.0 1761.2L1095.5 1762.5L1097.0 1763.8L1098.5 1765.1L1100.1 1766.4L1101.6 1767.7L1103.2 1769.0L1104.7 1770.3L1106.3 1771.6L1107.9 1772.9L1109.5 1774.2L1111.2 1775.5L1112.8 1776.7L1114.6 1778.0L1116.3 1779.3L1118.0 1780.5L1119.8 1781.6L1121.6 1782.7L1123.5 1783.7L1125.3 1784.5L1127.1 1785.3L1129.0 1785.8L1130.9 1786.2L1132.8 1786.4L1134.7 1786.4L1136.6 1786.2L1138.5 1785.7L1140.3 1785.1L1142.2 1784.3L1144.0 1783.3L1145.7 1782.2L1147.4 1781.0L1149.1 1779.7L1150.6 1778.3L1152.1 1776.9L1153.4 1775.4L1154.7 1773.8L1156.0 1772.3L1157.2 1770.6L1158.3 1769.0L1159.4 1767.3L1160.5 1765.6L1161.5 1763.8L1162.5 1762.1L1163.5 1760.4L1164.5 1758.6L1165.4 1756.8L1166.4 1755.1L1167.3 1753.3L1168.2 1751.5L1169.2 1749.7L1170.0 1747.9L1170.9 1746.1L1171.8 1744.3L1172.7 1742.5L1173.5 1740.7L1174.4 1738.9L1175.2 1737.1L1176.1 1735.3L1176.9 1733.4L1177.7 1731.6L1178.5 1729.8L1179.3 1728.0L1180.2 1726.1L1181.0 1724.3L1181.8 1722.5L1182.6 1720.6L1183.4 1718.8L1184.2 1717.0L1185.0 1715.1L1185.8 1713.3L1186.7 1711.5L1187.5 1709.7L1188.3 1707.8L1189.2 1706.0L1190.0 1704.2L1190.9 1702.4L1191.7 1700.6L1192.6 1698.8L1193.5 1697.0L1194.3 1695.2L1195.2 1693.4L1196.2 1691.6L1197.1 1689.9L1198.0 1688.1L1199.0 1686.3L1199.9 1684.6L1200.9 1682.9L1201.9 1681.1L1203.0 1679.4L1204.0 1677.7L1205.1 1676.0L1206.1 1674.3L1207.2 1672.6L1208.4 1671.0L1209.5 1669.3L1210.7 1667.6L1211.9 1666.0L1213.1 1664.4L1214.3 1662.8L1215.6 1661.2L1216.8 1659.6L1218.1 1658.1L1219.5 1656.5L1220.8 1655.0L1222.2 1653.5L1223.6 1652.1L1225.0 1650.6L1226.4 1649.2L1227.9 1647.8L1229.3 1646.4L1230.8 1645.1L1232.3 1643.8L1233.9 1642.5L1235.4 1641.2L1237.0 1640.0L1238.6 1638.8L1240.2 1637.6L1241.9 1636.5L1243.5 1635.4L1245.2 1634.3L1246.9 1633.3L1248.6 1632.3L1250.4 1631.4L1252.1 1630.5L1253.9 1629.6L1255.7 1628.8L1257.5 1628.0L1259.4 1627.2L1261.2 1626.5L1263.1 1625.8L1265.0 1625.2L1266.9 1624.6L1268.8 1624.0L1270.7 1623.4L1272.6 1622.9L1274.6 1622.4L1276.5 1621.9L1278.5 1621.5L1280.5 1621.1L1282.4 1620.7L1284.4 1620.3L1286.4 1619.9L1288.4 1619.6L1290.4 1619.3L1292.4 1619.0L1294.4 1618.7L1296.4 1618.4L1298.4 1618.1L1300.4 1617.9L1302.4 1617.6L1304.5 1617.4L1306.5 1617.1L1308.5 1616.9L1310.5 1616.7L1312.5 1616.5L1314.5 1616.3L1316.5 1616.1L1318.5 1615.9L1320.5 1615.7L1322.5 1615.6L1324.5 1615.4L1326.5 1615.2L1328.5 1615.1L1330.5 1614.9L1332.5 1614.8L1334.5 1614.6L1336.5 1614.5L1338.5 1614.4L1340.5 1614.3L1342.5 1614.1L1344.5 1614.0L1346.5 1613.9L1348.4 1613.8L1350.4 1613.7L1352.4 1613.6L1354.4 1613.4L1356.4 1613.3L1358.4 1613.2L1360.4 1613.1L1362.4 1613.0L1364.4 1612.9L1366.4 1612.8L1368.4 1612.7L1370.4 1612.6L1372.4 1612.5L1374.4 1612.4L1376.4 1612.3L1378.4 1612.2L1380.4 1612.1L1382.3 1612.0L1384.3 1611.9L1386.3 1611.8L1388.3 1611.6L1390.3 1611.5L1392.3 1611.4L1394.3 1611.3L1396.3 1611.1L1398.3 1611.0L1400.3 1610.8L1402.3 1610.7L1404.3 1610.5L1406.3 1610.4L1408.3 1610.2L1410.3 1610.1L1412.3 1609.9L1414.3 1609.7L1416.3 1609.6L1418.3 1609.4L1420.3 1609.2L1422.3 1609.0L1424.3 1608.8L1426.3 1608.6L1428.3 1608.4L1430.3 1608.2L1432.3 1608.0L1434.3 1607.8L1436.3 1607.6L1438.3 1607.4L1440.3 1607.2L1442.2 1606.9L1444.2 1606.7L1446.2 1606.5L1448.2 1606.3L1450.2 1606.1L1452.2 1605.8L1454.2 1605.6L1456.2 1605.4L1458.2 1605.1L1460.2 1604.9L1462.2 1604.7L1464.2 1604.4L1466.2 1604.2L1468.2 1604.0L1470.2 1603.7L1472.2 1603.5L1474.2 1603.2L1476.2 1603.0L1478.2 1602.8L1480.2 1602.5L1482.2 1602.3L1484.2 1602.0L1486.2 1601.8L1488.2 1601.6L1490.2 1601.3L1492.2 1601.1L1494.2 1600.8L1496.2 1600.6L1498.1 1600.4L1500.1 1600.1L1502.1 1599.9L1504.1 1599.7L1506.1 1599.4L1508.1 1599.2L1510.1 1599.0L1512.1 1598.7L1514.1 1598.5L1516.1 1598.3L1518.0 1598.1L1520.0 1597.9L1522.0 1597.6L1524.0 1597.4L1526.0 1597.2L1528.0 1597.0L1530.0 1596.8L1531.9 1596.6L1533.9 1596.4L1535.9 1596.2" stroke="#ff0000"/>
<path d="M1581.5 1637.1L1579.5 1637.1L1577.5 1637.2L1575.5 1637.2L1573.5 1637.2L1571.5 1637.3L1569.5 1637.3L1567.5 1637.3L1565.5 1637.4L1563.5 1637.4L1561.5 1637.5L1559.5 1637.5L1557.4 1637.5L1555.4 1637.6L1553.4 1637.6L1551.4 1637.6L1549.4 1637.7L1547.4 1637.7L1545.4 1637.7L1543.4 1637.8L1541.4 1637.8L1539.4 1637.9L1537.4 1637.9L1535.4 1637.9L1533.4 1638.0L1531.4 1638.0L1529.4 1638.0L1527.4 1638.1L1525.4 1638.1L1523.4 1638.1L1521.4 1638.2L1519.4 1638.2L1517.4 1638.2L1515.4 1638.3L1513.4 1638.3L1511.4 1638.4L1509.4 1638.4L1507.3 1638.4L1505.3 1638.5L1503.3 1638.5L1501.3 1638.5L1499.3 1638.6L1497.3 1638.6L1495.3 1638.6L1493.3 1638.7L1491.3 1638.7L1489.3 1638.7L1487.3 1638.8L1485.3 1638.8L1483.3 1638.8L1481.3 1638.9L1479.3 1638.9L1477.3 1638.9L1475.3 1639.0L1473.3 1639.0L1471.3 1639.0L1469.3 1639.1L1467.3 1639.1L1465.3 1639.1L1463.3 1639.1L1461.3 1639.2L1459.2 1639.2L1457.2 1639.2L1455.2 1639.3L1453.2 1639.3L1451.2 1639.3L1449.2 1639.4L1447.2 1639.4L1445.2 1639.4L1443.2 1639.5L1441.2 1639.5L1439.2 1639.5L1437.2 1639.6L1435.2 1639.6L1433.2 1639.6L1431.2 1639.6L1429.2 1639.7L1427.2 1639.7L1425.2 1639.7L1423.2 1639.8L1421.2 1639.8L1419.2 1639.8L1417.2 1639.9L1415.1 1639.9L1413.1 1639.9L1411.1 1640.0L1409.1 1640.0L1407.1 1640.0L1405.1 1640.0L1403.1 1640.1L1401.1 1640.1L1399.1 1640.1L1397.1 1640.2L1395.1 1640.2L1393.1 1640.2L1391.1 1640.2L1389.1 1640.3L1387.1 1640.3L1385.1 1640.3L1383.1 1640.4L1381.1 1640.4L1379.1 1640.4L1377.1 1640.4L1375.1 1640.5L1373.1 1640.5L1371.0 1640.5L1369.0 1640.6L1367.0 1640.6L1365.0 1640.6L1363.0 1640.6L1361.0 1640.7L1359.0 1640.7L1357.0 1640.7L1355.0 1640.8L1353.0 1640.8L1351.0 1640.8L1349.0 1640.8L1347.0 1640.9L1345.0 1640.9L1343.0 1640.9L1341.0 1641.0L1339.0 1641.0L1337.0 1641.0L1335.0 1641.0L1333.0 1641.1L1331.0 1641.1L1329.0 1641.1L1326.9 1641.1L1324.9 1641.2L1322.9 1641.2L1320.9 1641.2L1318.9 1641.3L1316.9 1641.3L1314.9 1641.3L1312.9 1641.3L1310.9 1641.4L1308.9 1641.4L1306.9 1641.4L1304.9 1641.4L1302.9 1641.5L1300.9 1641.5L1298.9 1641.5L1296.9 1641.5L1294.9 1641.6L1292.9 1641.6L1290.9 1641.6L1288.9 1641.7L1286.9 1641.7L1284.8 1641.7L1282.8 1641.7L1280.8 1641.8L1278.8 1641.8L1276.8 1641.8L1274.8 1641.8L1272.8 1641.9L1270.8 1641.9L1268.8 1641.9L1266.8 1641.9L1264.8 1642.0L1262.8 1642.0L1260.8 1642.0L1258.8 1642.0L1256.8 1642.1L1254.8 1642.1L1252.8 1642.1L1250.8 1642.2L1248.8 1642.2L1246.8 1642.2L1244.8 1642.2L1242.8 1642.3L1240.7 1642.3L1238.7 1642.3L1236.7 1642.3L1234.7 1642.4L1232.7 1642.4L1230.7 1642.4L1228.7 1642.4L1226.7 1642.5L1224.7 1642.5L1222.7 1642.5L1220.7 1642.5L1218.7 1642.6L1216.7 1642.6L1214.7 1642.6L1212.7 1642.6L1210.7 1642.7L1208.7 1642.7L1206.7 1642.7L1204.7 1642.7L1202.7 1642.8L1200.7 1642.8L1198.7 1642.8L1196.6 1642.8L1194.6 1642.9L1192.6 1642.9L1190.6 1642.9L1188.6 1642.9L1186.6 1643.0L1184.6 1643.0L1182.6 1643.0L1180.6 1643.0L1178.6 1643.1L1176.6 1643.1L1174.6 1643.1L1172.6 1643.1L1170.6 1643.2L1168.6 1643.2L1166.6 1643.2L1164.6 1643.2L1162.6 1643.3L1160.6 1643.3L1158.6 1643.3L1156.6 1643.3L1154.6 1643.4L1152.6 1643.4L1150.5 1643.4L1148.5 1643.4L1146.5 1643.5L1144.5 1643.5L1142.5 1643.5L1140.5 1643.5L1138.5 1643.6L1136.5 1643.6L1134.5 1643.6L1132.5 1643.6L1130.5 1643.7L1128.5 1643.7L1126.5 1643.7L1124.5 1643.8L1122.5 1643.8L1120.5 1643.8L1118.5 1643.8L1116.5 1643.9L1114.5 1643.9L1112.5 1643.9L1110.5 1643.9L1108.5 1644.0L1106.5 1644.0L1104.5 1644.0L1102.4 1644.0L1100.4 1644.1L1098.4 1644.1L1096.4 1644.1L1094.4 1644.1L1092.4 1644.2L1090.4 1644.2L1088.4 1644.2L1086.4 1644.2L1084.4 1644.3L1082.4 1644.3L1080.4 1644.3L1078.4 1644.3L1076.4 1644.4L1074.4 1644.4L1072.4 1644.4L1070.4 1644.4L1068.4 1644.5L1066.4 1644.5L1064.4 1644.5L1062.4 1644.5L1060.4 1644.6L1058.4 1644.6L1056.4 1644.6L1054.4 1644.7L1052.4 1644.7L1050.3 1644.7L1048.3 1644.7L1046.3 1644.8L1044.3 1644.8L1042.3 1644.8L1040.3 1644.8L1038.3 1644.9L1036.3 1644.9L1034.3 1644.9L1032.3 1644.9L1030.3 1645.0L1028.3 1645.0L1026.3 1645.0L1024.3 1645.1L1022.3 1645.1L1020.3 1645.1L1018.3 1645.1L1016.3 1645.2L1014.3 1645.2L1012.3 1645.2L1010.3 1645.3L1008.3 1645.3L1006.3 1645.3L1004.3 1645.3L1002.3 1645.4L1000.3 1645.4L998.3 1645.4L996.2 1645.5L994.2 1645.5L992.2 1645.5L990.2 1645.6L988.2 1645.6L986.2 1645.6L984.2 1645.7L982.2 1645.7L980.2 1645.7L978.2 1645.8L976.2 1645.8L974.2 1645.8L972.2 1645.9L970.2 1645.9L968.2 1645.9L966.2 1646.0L964.2 1646.0L962.2 1646.0L960.1 1646.1L958.1 1646.1L956.1 1646.2L954.1 1646.2L952.1 1646.2L950.1 1646.3L948.1 1646.3L946.1 1646.4L944.1 1646.4L942.1 1646.4L940.1 1646.5L938.1 1646.5L936.1 1646.6L934.0 1646.6L932.0 1646.7L930.0 1646.7L928.0 1646.8L926.0 1646.9L924.0 1647.0L922.0 1647.1L920.0 1647.2L918.0 1647.3L916.0 1647.4L914.0 1647.6L912.0 1647.7L910.0 1647.9L908.0 1648.1L906.0 1648.4L904.0 1648.6L902.1 1648.9L900.1 1649.2L898.1 1649.5L896.1 1649.8L894.2 1650.2L892.2 1650.6L890.2 1651.1L888.3 1651.5L886.3 1652.0L884.4 1652.6L882.5 1653.1L880.6 1653.7L878.6 1654.3L876.8 1655.0L874.9 1655.7L873.0 1656.4L871.1 1657.2L869.3 1657.9L867.5 1658.8L865.7 1659.6L863.9 1660.5L862.2 1661.5L860.4 1662.4L858.7 1663.4L857.0 1664.5L855.3 1665.5L853.7 1666.7L852.1 1667.8L850.5 1669.0L848.9 1670.2L847.4 1671.5L845.9 1672.8L844.4 1674.2L843.0 1675.5L841.5 1676.9L840.1 1678.4L838.7 1679.8L837.3 1681.3L835.9 1682.8L834.6 1684.2L833.2 1685.7L831.8 1687.2L830.4 1688.7L829.1 1690.2L827.7 1691.7L826.3 1693.2L824.9 1694.7L823.5 1696.1L822.1 1697.5L820.6 1699.0L819.2 1700.3L817.7 1701.7L816.2 1703.0L814.6 1704.3L813.1 1705.6L811.6 1706.9L810.0 1708.2L808.4 1709.4L806.9 1710.7L805.3 1711.9L803.7 1713.2L802.2 1714.4L800.7 1715.7L799.2 1717.0L797.7 1718.4L796.2 1719.7L794.8 1721.1L793.4 1722.5L792.0 1723.9L790.7 1725.4L789.4 1727.0L788.2 1728.5L787.0 1730.1L785.8 1731.8L784.6 1733.4L783.3 1735.0L782.1 1736.6L780.8 1738.1L779.4 1739.6L778.1 1741.1L776.6 1742.5L775.2 1743.9L773.7 1745.3L772.3 1746.7L770.8 1748.1L769.3 1749.5L767.9 1750.8L766.5 1752.3L765.1 1753.7L763.7 1755.2L762.4 1756.6L761.1 1758.1L759.8 1759.6L758.5 1761.2L757.2 1762.7L756.0 1764.3L754.8 1765.8L753.6 1767.4L752.4 1769.0L751.2 1770.6L750.0 1772.2L748.9 1773.8L747.7 1775.5L746.6 1777.1L745.4 1778.8L744.3 1780.4L743.1 1782.1L742.0 1783.7L740.9 1785.4L739.8 1787.1L738.7 1788.8L737.6 1790.5L736.5 1792.2L735.4 1793.9L734.4 1795.6L733.3 1797.3L732.3 1799.0L731.2 1800.7L730.2 1802.5L729.2 1804.2L728.2 1806.0L727.2 1807.7L726.2 1809.5L725.3 1811.3L724.3 1813.0L723.4 1814.8L722.5 1816.6L721.6 1818.4L720.7 1820.2L719.8 1822.0L718.9 1823.8L718.1 1825.6L717.3 1827.4L716.4 1829.3L715.6 1831.1L714.9 1832.9L714.1 1834.8L713.3 1836.6L712.6 1838.5L711.9 1840.3L711.2 1842.2L710.5 1844.1L709.8 1845.9L709.1 1847.8L708.5 1849.7L707.8 1851.6L707.2 1853.5L706.6 1855.4L705.9 1857.3L705.3 1859.2L704.7 1861.1L704.2 1863.0L703.6 1864.9L703.0 1866.8L702.5 1868.7L701.9 1870.6L701.4 1872.6L700.9 1874.5L700.4 1876.4L699.8 1878.4L699.3 1880.3L698.8 1882.2L698.3 1884.2L697.9 1886.1L697.4 1888.1L696.9 1890.0L696.4 1892.0L696.0 1893.9L695.5 1895.9L695.1 1897.8L694.6 1899.8L694.2 1901.7L693.7 1903.7L693.3 1905.6L692.9 1907.6L692.4 1909.6L692.0 1911.5L691.6 1913.5L691.2 1915.5L690.7 1917.4L690.3 1919.4L689.9 1921.3L689.5 1923.3L689.1 1925.3L688.7 1927.2L688.3 1929.2L687.8 1931.2L687.4 1933.2L687.0 1935.1L686.6 1937.1L686.2 1939.1L685.8 1941.0L685.4 1943.0L685.0 1945.0L684.6 1946.9L684.3 1948.9L683.9 1950.9L683.5 1952.9L683.1 1954.8L682.7 1956.8L682.3 1958.8L681.9 1960.8L681.5 1962.7L681.2 1964.7L680.8 1966.7L680.4 1968.7L680.0 1970.6L679.6 1972.6L679.3 1974.6L678.9 1976.5L678.5 1978.5L678.1 1980.5L677.7 1982.5L677.4 1984.4L677.0 1986.4L676.6 1988.4L676.2 1990.4L675.9 1992.3L675.5 1994.3L675.1 1996.3L674.7 1998.3L674.3 2000.2L674.0 2002.2L673.6 2004.2L673.2 2006.1L672.8 2008.1L672.5 2010.1L672.1 2012.1L671.7 2014.0L671.3 2016.0L670.9 2018.0L670.5 2019.9L670.2 2021.9L669.8 2023.9L669.4 2025.8L669.0 2027.8L668.6 2029.8L668.2 2031.7L667.8 2033.7L667.5 2035.7L667.1 2037.6L666.7 2039.6L666.3 2041.5L665.9 2043.5L665.5 2045.5L665.1 2047.4L664.7 2049.4L664.3 2051.3L663.9 2053.3L663.5 2055.2L663.1 2057.2L662.6 2059.1L662.2 2061.1L661.8 2063.0L661.4 2065.0L661.0 2066.9L660.6 2068.9L660.1 2070.8L659.7 2072.8L659.3 2074.7L658.8 2076.7L658.4 2078.6L658.0 2080.5L657.5 2082.5L657.1 2084.4L656.6 2086.4L656.2 2088.3L655.7 2090.2L655.3 2092.2L654.8 2094.1L654.4 2096.0L653.9 2097.9L653.4 2099.9L653.0 2101.8L652.5 2103.7L652.0 2105.6L651.5 2107.6L651.0 2109.5L650.6 2111.4L650.1 2113.3L649.6 2115.2L649.1 2117.2L648.5 2119.1L648.0 2121.1L647.5 2123.0L646.9 2125.0L646.4 2127.0L645.8 2129.0L645.2 2131.0L644.6 2133.1L644.0 2135.2L643.4 2137.3L642.7 2139.4L642.0 2141.6L641.3 2143.6L640.5 2145.5L639.6 2147.3L638.6 2148.8L637.4 2150.1L636.2 2151.0L634.7 2151.6L633.2 2151.7L631.7 2151.5L630.2 2150.7L628.9 2149.4L627.7 2147.9L626.6 2146.1L625.6 2144.2L624.8 2142.3L624.1 2140.4L623.5 2138.4L622.9 2136.4L622.3 2134.5L621.6 2132.5L621.0 2130.6L620.4 2128.6L619.7 2126.7L619.1 2124.8L618.4 2122.8L617.7 2120.9L617.0 2119.0L616.3 2117.2L615.5 2115.3L614.8 2113.4L614.0 2111.5L613.3 2109.7L612.5 2107.8L611.7 2106.0L610.9 2104.2L610.1 2102.3L609.2 2100.5L608.4 2098.7L607.6 2096.9L606.7 2095.1L605.8 2093.3L604.9 2091.5L604.0 2089.7L603.1 2088.0L602.2 2086.2L601.3 2084.4L600.4 2082.7L599.4 2080.9L598.5 2079.2L597.5 2077.4L596.5 2075.7L595.5 2074.0L594.6 2072.3L593.5 2070.5L592.5 2068.8L591.5 2067.1L590.5 2065.4L589.4 2063.7L588.3 2062.1L587.3 2060.4L586.2 2058.7L585.1 2057.1L583.9 2055.4L582.8 2053.8L581.6 2052.2L580.4 2050.5L579.2 2048.9L578.0 2047.3L576.7 2045.8L575.5 2044.2L574.2 2042.6L572.9 2041.1L571.5 2039.6L570.1 2038.0L568.7 2036.5L567.3 2035.1L565.9 2033.6L564.4 2032.2L562.9 2030.9L561.3 2029.6L559.8 2028.3L558.2 2027.2L556.5 2026.1L554.8 2025.2L553.1 2024.3L551.4 2023.5L549.6 2022.9L547.7 2022.4L545.9 2022.0L544.0 2021.8L542.0 2021.7L540.0 2021.8L538.0 2022.0L535.9 2022.3L533.9 2022.7L531.8 2023.1L529.7 2023.6L527.6 2024.0L525.5 2024.3L523.5 2024.6L521.4 2024.8L519.4 2024.8L517.5 2024.6L515.6 2024.2L513.8 2023.6L512.0 2022.7L510.3 2021.5" stroke="#000"/>
<path d="M510.1 2021.7L510.3 2019.7L510.5 2017.6L510.8 2015.6L511.0 2013.6L511.3 2011.6L511.5 2009.6L511.7 2007.5L512.0 2005.5L512.2 2003.5L512.5 2001.5L512.7 1999.6L513.0 1997.6L513.2 1995.6L513.5 1993.6L513.8 1991.6L514.0 1989.7L514.3 1987.7L514.6 1985.7L514.9 1983.7L515.2 1981.8L515.5 1979.8L515.8 1977.9L516.1 1975.9L516.4 1974.0L516.8 1972.0L517.1 1970.1L517.4 1968.1L517.8 1966.2L518.2 1964.2L518.6 1962.3L519.0 1960.3L519.4 1958.4L519.8 1956.4L520.2 1954.5L520.6 1952.6L521.1 1950.6L521.6 1948.7L522.0 1946.7L522.5 1944.8L523.0 1942.9L523.6 1940.9L524.1 1939.0L524.7 1937.0L525.2 1935.1L525.8 1933.2L526.4 1931.2L527.1 1929.3L527.7 1927.3L528.4 1925.4L529.0 1923.5L529.7 1921.5L530.5 1919.6L531.2 1917.7L532.0 1915.8L532.8 1913.9L533.6 1912.1L534.4 1910.2L535.3 1908.4L536.2 1906.6L537.1 1904.8L538.0 1903.0L539.0 1901.2L540.0 1899.5L541.1 1897.8L542.1 1896.1L543.2 1894.4L544.3 1892.8L545.5 1891.2L546.7 1889.6L547.9 1888.1L549.2 1886.6L550.5 1885.1L551.8 1883.7L553.2 1882.3L554.6 1881.0L556.0 1879.7L557.5 1878.4L559.0 1877.2L560.6 1876.0L562.2 1874.8L563.8 1873.7L565.4 1872.6L567.1 1871.5L568.8 1870.5L570.5 1869.4L572.2 1868.4L573.9 1867.3L575.6 1866.3L577.4 1865.3L579.2 1864.2L580.9 1863.2L582.7 1862.2L584.4 1861.1L586.2 1860.0L587.9 1858.9L589.7 1857.8L591.4 1856.7L593.1 1855.5L594.8 1854.4L596.5 1853.2L598.2 1852.0L599.8 1850.7L601.4 1849.5L602.9 1848.2L604.5 1846.9L605.9 1845.5L607.4 1844.1L608.8 1842.7L610.1 1841.3L611.5 1839.8L612.7 1838.3L613.9 1836.8L615.1 1835.3L616.3 1833.7L617.4 1832.1L618.5 1830.5L619.5 1828.8L620.5 1827.2L621.5 1825.5L622.4 1823.7L623.3 1822.0L624.2 1820.3L625.0 1818.5L625.8 1816.7L626.6 1814.9L627.4 1813.1L628.1 1811.2L628.8 1809.4L629.5 1807.5L630.2 1805.6L630.9 1803.7L631.5 1801.8L632.1 1799.9L632.7 1798.0L633.3 1796.0L633.8 1794.1L634.4 1792.1L634.9 1790.2L635.5 1788.2L636.0 1786.2L636.5 1784.3L637.0 1782.3L637.5 1780.3L638.0 1778.3L638.4 1776.4L638.9 1774.4L639.4 1772.4L639.9 1770.4L640.3 1768.4L640.8 1766.5L641.3 1764.5L641.8 1762.5L642.2 1760.5L642.7 1758.6L643.2 1756.6L643.7 1754.7L644.1 1752.7L644.6 1750.7L645.1 1748.8L645.5 1746.8L646.0 1744.9L646.5 1742.9L646.9 1741.0L647.4 1739.0L647.9 1737.1L648.3 1735.1L648.8 1733.2L649.3 1731.2L649.7 1729.3L650.2 1727.4L650.6 1725.4L651.1 1723.5L651.6 1721.5L652.0 1719.6L652.5 1717.6L652.9 1715.7L653.3 1713.8L653.8 1711.8L654.2 1709.9L654.7 1708.0L655.1 1706.0L655.5 1704.1L656.0 1702.1L656.4 1700.2L656.8 1698.3L657.2 1696.3L657.7 1694.4L658.1 1692.4L658.5 1690.5L658.9 1688.5L659.3 1686.6L659.7 1684.6L660.1 1682.7L660.5 1680.7L660.9 1678.8L661.3 1676.8L661.6 1674.9L662.0 1672.9L662.4 1671.0L662.8 1669.0L663.1 1667.0L663.5 1665.1L663.9 1663.1L664.2 1661.1L664.6 1659.2L664.9 1657.2L665.2 1655.2L665.6 1653.2L665.9 1651.3L666.2 1649.3L666.6 1647.3L666.9 1645.3L667.2 1643.3L667.5 1641.4L667.8 1639.4L668.2 1637.4L668.5 1635.4L668.8 1633.4L669.1 1631.4L669.4 1629.4L669.7 1627.4L670.0 1625.4L670.4 1623.5L670.7 1621.5L671.0 1619.5L671.3 1617.5L671.6 1615.5L672.0 1613.5L672.3 1611.5L672.6 1609.5L672.9 1607.6L673.3 1605.6L673.6 1603.6L673.9 1601.6L674.3 1599.6L674.6 1597.6L675.0 1595.7L675.3 1593.7L675.7 1591.7L676.0 1589.7L676.4 1587.8L676.8 1585.8L677.2 1583.9L677.6 1581.9L678.0 1579.9L678.4 1578.0L678.8 1576.0L679.2 1574.1L679.6 1572.1L680.0 1570.2L680.5 1568.2L680.9 1566.3L681.4 1564.4L681.8 1562.5L682.3 1560.5L682.8 1558.6L683.3 1556.7L683.8 1554.8L684.4 1552.9L684.9 1551.0L685.5 1549.0L686.2 1547.1L686.8 1545.2L687.5 1543.3L688.2 1541.4L689.0 1539.5L689.8 1537.6L690.6 1535.7L691.5 1533.8L692.4 1531.9L693.4 1530.0L694.5 1528.2L695.6 1526.7L697.0 1525.4L698.5 1524.5L700.2 1524.1L702.0 1523.9L703.9 1524.0L705.9 1524.4L707.9 1524.9L709.9 1525.6L711.9 1526.3L713.8 1527.0L715.8 1527.8L717.6 1528.6L719.5 1529.4L721.3 1530.3L723.1 1531.2L724.8 1532.2L726.5 1533.2L728.2 1534.3L729.8 1535.3L731.4 1536.5L733.0 1537.7L734.6 1538.9L736.2 1540.1L737.7 1541.4L739.2 1542.8L740.7 1544.1L742.2 1545.5L743.6 1546.9L745.1 1548.3L746.5 1549.8L747.9 1551.2L749.3 1552.6L750.7 1554.0L752.0 1555.5L753.4 1556.9L754.8 1558.4L756.1 1559.8L757.5 1561.3L758.8 1562.7L760.1 1564.2L761.5 1565.7L762.8 1567.1L764.2 1568.6L765.5 1570.1L766.9 1571.5L768.2 1573.0L769.6 1574.5L771.0 1576.0L772.4 1577.5L773.8 1579.0L775.2 1580.4L776.7 1581.9L778.1 1583.3L779.6 1584.7L781.1 1586.1L782.7 1587.4L784.3 1588.6L785.9 1589.8L787.6 1590.9L789.3 1592.0L791.0 1592.9L792.9 1593.7L794.7 1594.5L796.6 1595.1L798.6 1595.6L800.5 1595.9L802.5 1596.2L804.4 1596.3L806.4 1596.2L808.3 1596.0L810.2 1595.6L812.1 1595.1L813.9 1594.4L815.6 1593.5L817.3 1592.5L818.8 1591.3L820.3 1589.9L821.8 1588.5L823.2 1586.9L824.5 1585.3L825.8 1583.6L827.0 1581.9L828.1 1580.2L829.2 1578.4L830.3 1576.7L831.3 1574.9L832.3 1573.1L833.2 1571.3L834.1 1569.5L835.0 1567.7L835.8 1565.8L836.7 1564.0L837.4 1562.1L838.2 1560.2L838.9 1558.4L839.6 1556.5L840.3 1554.6L840.9 1552.7L841.6 1550.8L842.2 1548.9L842.9 1547.0L843.5 1545.1L844.1 1543.2L844.7 1541.3L845.3 1539.4L845.8 1537.5L846.4 1535.6L847.0 1533.7L847.5 1531.8L848.1 1529.9L848.6 1528.0L849.1 1526.1L849.7 1524.1L850.2 1522.2L850.7 1520.3L851.2 1518.4L851.7 1516.5L852.2 1514.6L852.7 1512.7L853.2 1510.7L853.6 1508.8L854.1 1506.9L854.6 1505.0L855.1 1503.0L855.5 1501.1L856.0 1499.2L856.4 1497.3L856.9 1495.3L857.3 1493.4L857.8 1491.5L858.2 1489.5L858.7 1487.6L859.1 1485.7L859.6 1483.7L860.0 1481.8L860.5 1479.8L860.9 1477.9L861.4 1475.9L861.8 1474.0L862.3 1472.0L862.7 1470.1L863.2 1468.1L863.6 1466.2L864.1 1464.2L864.5 1462.3L865.0 1460.3L865.5 1458.3L865.9 1456.4L866.4 1454.4L866.9 1452.5L867.4 1450.5L867.8 1448.5L868.3 1446.5L868.8 1444.6L869.3 1442.6L869.8 1440.6L870.3 1438.6L870.9 1436.6L871.4 1434.6L871.9 1432.7L872.5 1430.7L873.0 1428.7L873.6 1426.7L874.1 1424.7L874.7 1422.7L875.3 1420.7L875.9 1418.7L876.5 1416.7L877.2 1414.8L877.9 1412.9L878.6 1411.0L879.5 1409.2L880.3 1407.5L881.3 1405.8L882.3 1404.2L883.4 1402.6L884.6 1401.2L885.9 1399.8L887.3 1398.6L888.8 1397.5L890.4 1396.5L892.1 1396.0L893.9 1395.9L895.7 1396.5L897.4 1397.4L899.0 1398.4L900.5 1399.7L901.9 1401.0L903.2 1402.4L904.4 1403.9L905.6 1405.5L906.6 1407.2L907.6 1408.9L908.6 1410.7L909.4 1412.5L910.3 1414.4L911.1 1416.3L911.8 1418.3L912.6 1420.2L913.4 1422.2L914.1 1424.2L914.9 1426.1L915.6 1428.0L916.4 1429.9L917.2 1431.8L917.9 1433.7L918.7 1435.6L919.6 1437.5L920.4 1439.3L921.2 1441.1L922.0 1443.0L922.9 1444.8L923.8 1446.6L924.6 1448.4L925.5 1450.1L926.4 1451.9L927.3 1453.7L928.3 1455.4L929.2 1457.2L930.2 1458.9L931.2 1460.6L932.2 1462.3L933.2 1464.0L934.2 1465.7L935.3 1467.4L936.4 1469.1L937.4 1470.7L938.5 1472.4L939.7 1474.0L940.8 1475.7L941.9 1477.3L943.1 1478.9L944.3 1480.5L945.5 1482.1L946.7 1483.7L947.9 1485.3L949.2 1486.8L950.4 1488.4L951.7 1489.9L953.0 1491.5L954.3 1493.0L955.6 1494.5L956.9 1496.0L958.3 1497.5L959.6 1499.0L961.0 1500.4L962.4 1501.9L963.8 1503.3L965.2 1504.8L966.6 1506.2L968.1 1507.6L969.5 1509.0L971.0 1510.4L972.4 1511.7L973.9 1513.1L975.4 1514.5L976.9 1515.8L978.4 1517.1L980.0 1518.4L981.5 1519.7L983.0 1521.0L984.6 1522.3L986.2 1523.6L987.7 1524.8L989.3 1526.0L990.9 1527.3L992.5 1528.5L994.2 1529.7L995.8 1530.9L997.4 1532.0L999.1 1533.2L1000.7 1534.3L1002.4 1535.4L1004.0 1536.6L1005.7 1537.7L1007.4 1538.7L1009.1 1539.8L1010.8 1540.9L1012.5 1541.9L1014.2 1542.9L1015.9 1543.9L1017.6 1544.9L1019.4 1545.9L1021.1 1546.9L1022.9 1547.9L1024.6 1548.8L1026.4 1549.7L1028.2 1550.7L1029.9 1551.6L1031.7 1552.5L1033.5 1553.4L1035.3 1554.2L1037.1 1555.1L1038.9 1555.9L1040.7 1556.8L1042.5 1557.6L1044.3 1558.4L1046.2 1559.2L1048.0 1560.0L1049.8 1560.7L1051.7 1561.5L1053.5 1562.3L1055.4 1563.0L1057.2 1563.7L1059.1 1564.5L1061.0 1565.2L1062.8 1565.9L1064.7 1566.6L1066.6 1567.2L1068.5 1567.9L1070.4 1568.6L1072.2 1569.2L1074.1 1569.9L1076.0 1570.5L1077.9 1571.1L1079.9 1571.7L1081.8 1572.3L1083.7 1572.9L1085.6 1573.5L1087.5 1574.1L1089.4 1574.7L1091.4 1575.2L1093.3 1575.8L1095.2 1576.3L1097.2 1576.9L1099.1 1577.4L1101.1 1577.9L1103.0 1578.4L1104.9 1578.9L1106.9 1579.4L1108.8 1579.9L1110.8 1580.4L1112.8 1580.9L1114.7 1581.4L1116.7 1581.8L1118.6 1582.3L1120.6 1582.7L1122.6 1583.2L1124.5 1583.6L1126.5 1584.1L1128.5 1584.5L1130.4 1584.9L1132.4 1585.3L1134.4 1585.7L1136.4 1586.2L1138.3 1586.6L1140.3 1587.0L1142.3 1587.4L1144.3 1587.7L1146.2 1588.1L1148.2 1588.5L1150.2 1588.9L1152.2 1589.3L1154.1 1589.6L1156.1 1590.0L1158.1 1590.3L1160.1 1590.7L1162.0 1591.1L1164.0 1591.4L1166.0 1591.8L1168.0 1592.1L1169.9 1592.4L1171.9 1592.8L1173.9 1593.1L1175.9 1593.4L1177.9 1593.8L1179.8 1594.1L1181.8 1594.4L1183.8 1594.7L1185.8 1595.0L1187.7 1595.3L1189.7 1595.6L1191.7 1595.9L1193.7 1596.2L1195.7 1596.5L1197.6 1596.8L1199.6 1597.1L1201.6 1597.4L1203.6 1597.7L1205.5 1597.9L1207.5 1598.2L1209.5 1598.5L1211.5 1598.7L1213.5 1599.0L1215.4 1599.3L1217.4 1599.5L1219.4 1599.8L1221.4 1600.0L1223.4 1600.3L1225.3 1600.5L1227.3 1600.8L1229.3 1601.0L1231.3 1601.3L1233.3 1601.5L1235.3 1601.7L1237.2 1602.0L1239.2 1602.2L1241.2 1602.4L1243.2 1602.6L1245.2 1602.9L1247.2 1603.1L1249.1 1603.3L1251.1 1603.5L1253.1 1603.7L1255.1 1603.9L1257.1 1604.1L1259.1 1604.3L1261.1 1604.5L1263.0 1604.7L1265.0 1604.9L1267.0 1605.1L1269.0 1605.3L1271.0 1605.5L1273.0 1605.6L1275.0 1605.8L1277.0 1606.0L1279.0 1606.2L1281.0 1606.4L1282.9 1606.5L1284.9 1606.7L1286.9 1606.9L1288.9 1607.0L1290.9 1607.2L1292.9 1607.3L1294.9 1607.5L1296.9 1607.7L1298.9 1607.8L1300.9 1608.0L1302.9 1608.1L1304.9 1608.3L1306.9 1608.4L1308.9 1608.6L1310.9 1608.7L1312.9 1608.8L1314.9 1609.0L1316.9 1609.1L1318.9 1609.3L1320.9 1609.4L1322.9 1609.5L1324.9 1609.7L1326.9 1609.8L1329.0 1609.9L1331.0 1610.0L1333.0 1610.2L1335.0 1610.3L1337.0 1610.4L1339.0 1610.5L1341.0 1610.6L1343.0 1610.8L1345.0 1610.9L1347.1 1611.0L1349.1 1611.1" stroke="#000"/>
<path d="M1350.0 1620.0L1352.0 1620.1L1354.1 1620.2L1356.1 1620.3L1358.1 1620.4L1360.2 1620.5L1362.2 1620.6L1364.2 1620.7L1366.2 1620.7L1368.3 1620.8L1370.3 1620.9L1372.3 1621.0L1374.4 1621.1L1376.4 1621.2L1378.4 1621.3L1380.5 1621.4L1382.5 1621.5L1384.5 1621.6L1386.5 1621.7L1388.6 1621.8L1390.6 1621.9L1392.6 1622.0L1394.7 1622.1L1396.7 1622.1L1398.7 1622.2L1400.8 1622.3L1402.8 1622.4L1404.8 1622.5L1406.8 1622.6L1408.9 1622.7L1410.9 1622.8L1412.9 1622.9L1415.0 1623.0L1417.0 1623.1L1419.0 1623.2L1421.1 1623.3L1423.1 1623.4L1425.1 1623.4L1427.1 1623.5L1429.2 1623.6L1431.2 1623.7L1433.2 1623.8L1435.3 1623.9L1437.3 1624.0L1439.3 1624.1L1441.4 1624.2L1443.4 1624.3L1445.4 1624.3L1447.5 1624.4L1449.5 1624.5L1451.5 1624.6L1453.5 1624.7L1455.6 1624.8L1457.6 1624.9L1459.6 1625.0L1461.7 1625.1L1463.7 1625.1L1465.7 1625.2L1467.8 1625.3L1469.8 1625.4L1471.8 1625.5L1473.8 1625.6L1475.9 1625.7L1477.9 1625.7L1479.9 1625.8L1482.0 1625.9L1484.0 1626.0L1486.0 1626.1L1488.1 1626.2L1490.1 1626.2L1492.1 1626.3L1494.2 1626.4L1496.2 1626.5L1498.2 1626.6L1500.2 1626.6L1502.3 1626.7L1504.3 1626.8L1506.3 1626.9L1508.4 1626.9L1510.4 1627.0L1512.4 1627.1L1514.5 1627.2L1516.5 1627.2L1518.5 1627.3L1520.6 1627.4L1522.6 1627.5L1524.6 1627.5L1526.7 1627.6L1528.7 1627.7L1530.7 1627.8L1532.7 1627.8L1534.8 1627.9L1536.8 1628.0L1538.8 1628.0L1540.9 1628.1L1542.9 1628.2L1544.9 1628.2L1547.0 1628.3L1549.0 1628.4L1551.0 1628.4L1553.1 1628.5L1555.1 1628.6L1557.1 1628.6L1559.2 1628.7L1561.2 1628.7L1563.2 1628.8L1565.2 1628.9L1567.3 1628.9L1569.3 1629.0L1571.3 1629.0L1573.4 1629.1L1575.4 1629.1L1577.4 1629.2L1579.5 1629.2L1581.5 1629.3" stroke="#000"/>
<line x1="1349.1" y1="1609.4" x2="1349.1" y2="1650" stroke="#000" stroke-linecap="butt"/>
</g>
<text transform="translate(532.40 1622.40) scale(1.0000 0.9833)" font-size="51">III</text>
<text transform="translate(698.19 1590.90) scale(1.0421 0.9833)" font-size="51">II</text>
<text transform="translate(889.40 1458.50) scale(1.2000 0.9306)" font-size="51">I</text>
<text transform="translate(944.23 1590.90) scale(0.9737 0.9639)" font-size="51">II</text>
<text transform="translate(1187.40 1536.70) scale(1.2000 0.9833)" font-size="51">I</text>
</svg></body></html>
